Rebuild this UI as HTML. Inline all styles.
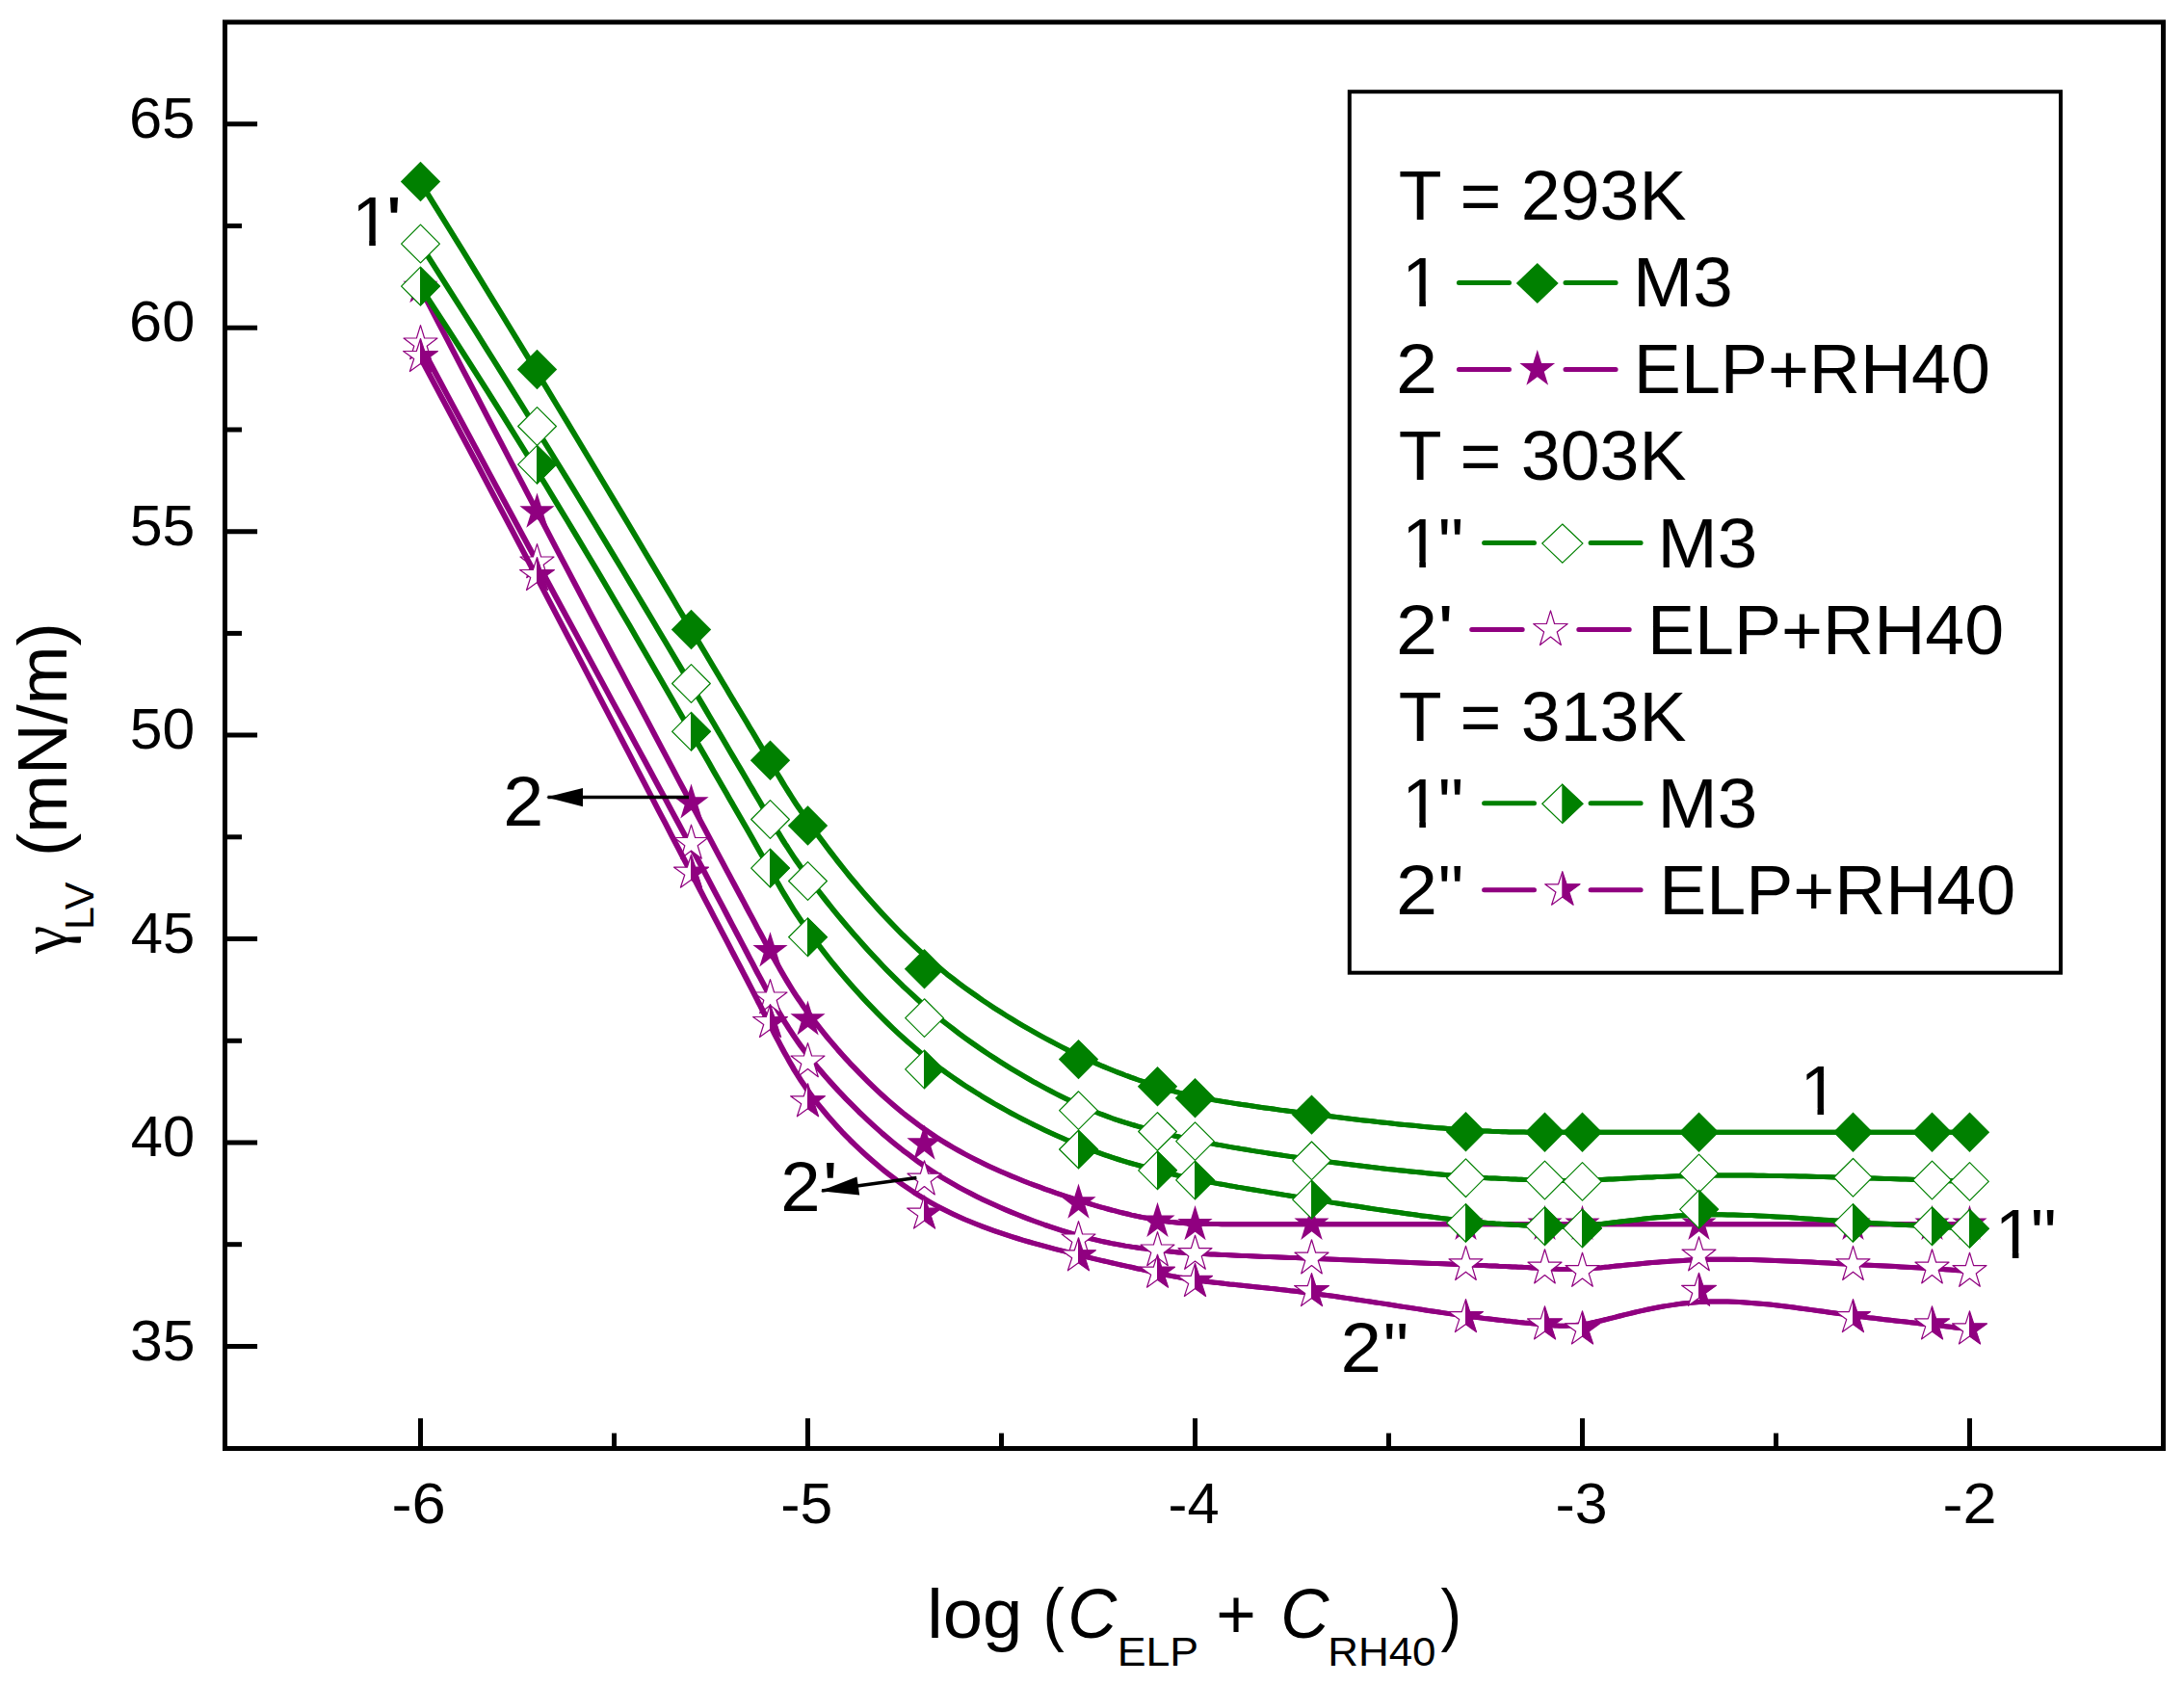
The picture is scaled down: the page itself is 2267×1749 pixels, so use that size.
<!DOCTYPE html>
<html lang="en"><head><meta charset="utf-8"><title>Surface tension plot</title>
<style>html,body{margin:0;padding:0;background:#fff}svg{display:block}text{font-family:"Liberation Sans",Arial,sans-serif;fill:#000}.it{font-style:italic}.ser{font-family:"Liberation Serif","DejaVu Serif",serif}</style></head><body>
<svg width="2267" height="1749" viewBox="0 0 2267 1749">
<rect width="2267" height="1749" fill="#fff"/>
<defs><clipPath id="k1"><rect x="0" y="-62" width="46" height="55.6"/><rect x="18.0" y="-6.6" width="6.6" height="7.6"/></clipPath></defs>
<g fill="none" stroke-linejoin="round">
<path d="M436.5,188.5 L451.4,212.6 L465.9,236.0 L480.0,258.8 L493.7,281.1 L506.9,302.7 L519.8,323.7 L532.3,344.2 L544.4,364.1 L556.1,383.4 L567.5,402.1 L578.4,420.3 L589.1,437.9 L599.4,455.0 L609.3,471.5 L618.9,487.5 L628.2,503.0 L637.1,517.9 L645.8,532.4 L654.1,546.3 L662.1,559.7 L669.8,572.7 L677.2,585.1 L684.3,597.1 L691.2,608.6 L697.7,619.6 L704.0,630.2 L710.1,640.4 L715.9,650.1 L721.5,659.4 L726.8,668.3 L731.9,676.8 L736.8,685.0 L741.4,692.8 L745.9,700.3 L750.2,707.5 L754.3,714.3 L758.2,720.9 L762.0,727.2 L765.6,733.2 L769.1,739.0 L772.4,744.5 L775.6,749.8 L778.6,754.9 L781.6,759.8 L784.4,764.6 L787.1,769.1 L789.8,773.6 L792.3,777.9 L794.8,782.1 L797.2,786.1 L799.6,790.1 L801.9,794.0 L804.2,797.8 L806.4,801.6 L808.7,805.3 L810.9,808.9 L813.1,812.6 L815.3,816.2 L817.6,819.8 L819.8,823.4 L822.1,827.0 L824.4,830.6 L826.8,834.3 L829.3,838.0 L831.8,841.7 L834.4,845.6 L837.1,849.5 L839.9,853.5 L842.8,857.5 L845.8,861.7 L848.9,866.1 L852.2,870.5 L855.6,875.1 L859.1,879.8 L862.8,884.6 L866.6,889.6 L870.5,894.6 L874.6,899.8 L878.8,905.0 L883.1,910.3 L887.6,915.6 L892.1,921.0 L896.8,926.5 L901.5,931.9 L906.4,937.4 L911.4,943.0 L916.4,948.5 L921.6,954.0 L926.9,959.5 L932.2,964.9 L937.6,970.4 L943.2,975.8 L948.8,981.1 L954.4,986.3 L960.2,991.5 L966.0,996.6 L971.9,1001.6 L977.8,1006.5 L983.8,1011.4 L989.9,1016.1 L995.9,1020.7 L1002.0,1025.2 L1008.2,1029.6 L1014.3,1033.9 L1020.4,1038.2 L1026.5,1042.3 L1032.6,1046.3 L1038.7,1050.2 L1044.7,1054.0 L1050.7,1057.7 L1056.7,1061.3 L1062.6,1064.8 L1068.4,1068.1 L1074.1,1071.4 L1079.8,1074.6 L1085.3,1077.6 L1090.8,1080.5 L1096.2,1083.4 L1101.4,1086.1 L1106.5,1088.7 L1111.5,1091.2 L1116.3,1093.5 L1121.0,1095.8 L1125.6,1098.0 L1130.1,1100.0 L1134.4,1102.0 L1138.6,1103.9 L1142.7,1105.7 L1146.7,1107.4 L1150.6,1109.0 L1154.3,1110.5 L1158.0,1112.0 L1161.5,1113.4 L1165.0,1114.7 L1168.3,1116.0 L1171.6,1117.2 L1174.7,1118.3 L1177.8,1119.4 L1180.7,1120.5 L1183.6,1121.5 L1186.4,1122.4 L1189.1,1123.4 L1191.8,1124.2 L1194.3,1125.1 L1196.8,1125.9 L1199.2,1126.7 L1201.6,1127.5 L1203.9,1128.2 L1206.2,1128.9 L1208.4,1129.6 L1210.7,1130.3 L1212.9,1131.0 L1215.1,1131.6 L1217.3,1132.3 L1219.6,1132.9 L1221.8,1133.5 L1224.1,1134.1 L1226.4,1134.7 L1228.8,1135.3 L1231.3,1135.9 L1233.8,1136.5 L1236.4,1137.1 L1239.1,1137.7 L1241.9,1138.2 L1244.8,1138.8 L1247.8,1139.4 L1250.9,1140.0 L1254.2,1140.6 L1257.6,1141.2 L1261.1,1141.9 L1264.8,1142.5 L1268.6,1143.1 L1272.5,1143.8 L1276.6,1144.4 L1280.8,1145.1 L1285.1,1145.8 L1289.6,1146.5 L1294.1,1147.1 L1298.8,1147.8 L1303.5,1148.5 L1308.4,1149.2 L1313.4,1149.9 L1318.4,1150.6 L1323.6,1151.3 L1328.9,1152.1 L1334.2,1152.8 L1339.6,1153.5 L1345.2,1154.2 L1350.8,1155.0 L1356.4,1155.7 L1362.2,1156.4 L1368.0,1157.1 L1373.9,1157.9 L1379.8,1158.6 L1385.8,1159.3 L1391.9,1160.1 L1397.9,1160.8 L1404.0,1161.5 L1410.2,1162.2 L1416.3,1162.9 L1422.4,1163.6 L1428.5,1164.3 L1434.6,1164.9 L1440.7,1165.6 L1446.7,1166.2 L1452.7,1166.9 L1458.7,1167.5 L1464.6,1168.1 L1470.4,1168.6 L1476.1,1169.2 L1481.8,1169.7 L1487.3,1170.2 L1492.8,1170.7 L1498.2,1171.1 L1503.4,1171.5 L1508.5,1171.9 L1513.5,1172.3 L1518.3,1172.6 L1523.0,1172.9 L1527.6,1173.2 L1532.1,1173.5 L1536.4,1173.7 L1540.6,1173.9 L1544.7,1174.1 L1548.7,1174.3 L1552.6,1174.4 L1556.3,1174.6 L1560.0,1174.7 L1563.5,1174.8 L1567.0,1174.9 L1570.3,1174.9 L1573.6,1175.0 L1576.7,1175.1 L1579.8,1175.1 L1582.7,1175.1 L1585.6,1175.2 L1588.4,1175.2 L1591.1,1175.2 L1593.8,1175.2 L1596.3,1175.2 L1598.8,1175.2 L1601.2,1175.2 L1603.6,1175.2 L1605.9,1175.3 L1608.2,1175.3 L1610.4,1175.3 L1612.7,1175.3 L1614.9,1175.3 L1617.1,1175.3 L1619.3,1175.3 L1621.6,1175.3 L1623.8,1175.3 L1626.1,1175.3 L1628.4,1175.3 L1630.8,1175.3 L1633.3,1175.3 L1635.8,1175.3 L1638.4,1175.3 L1641.1,1175.3 L1643.9,1175.3 L1646.8,1175.3 L1649.8,1175.3 L1652.9,1175.3 L1656.2,1175.3 L1659.6,1175.3 L1663.1,1175.3 L1666.8,1175.3 L1670.6,1175.3 L1674.5,1175.3 L1678.6,1175.3 L1682.8,1175.3 L1687.1,1175.3 L1691.6,1175.3 L1696.1,1175.3 L1700.8,1175.3 L1705.5,1175.3 L1710.4,1175.3 L1715.4,1175.3 L1720.4,1175.3 L1725.6,1175.3 L1730.9,1175.3 L1736.2,1175.3 L1741.6,1175.3 L1747.2,1175.3 L1752.8,1175.3 L1758.4,1175.3 L1764.2,1175.3 L1770.0,1175.3 L1775.9,1175.3 L1781.8,1175.3 L1787.8,1175.3 L1793.9,1175.3 L1800.0,1175.3 L1806.1,1175.3 L1812.3,1175.3 L1818.5,1175.3 L1824.8,1175.3 L1831.0,1175.3 L1837.3,1175.3 L1843.5,1175.3 L1849.8,1175.3 L1856.1,1175.3 L1862.3,1175.3 L1868.6,1175.3 L1874.8,1175.3 L1881.0,1175.3 L1887.2,1175.3 L1893.3,1175.3 L1899.4,1175.3 L1905.4,1175.3 L1911.4,1175.3 L1917.3,1175.3 L1923.2,1175.3 L1929.0,1175.3 L1934.7,1175.3 L1940.4,1175.3 L1946.0,1175.3 L1951.6,1175.3 L1957.1,1175.3 L1962.6,1175.3 L1968.0,1175.3 L1973.4,1175.3 L1978.7,1175.3 L1984.0,1175.3 L1989.2,1175.3 L1994.4,1175.3 L1999.6,1175.3 L2004.7,1175.3 L2009.8,1175.3 L2014.8,1175.3 L2019.8,1175.3 L2024.8,1175.3 L2029.8,1175.3 L2034.7,1175.3 L2039.6,1175.3 L2044.5,1175.3" stroke="#008000" stroke-width="5.0" fill="none" transform="translate(-1,0)"/>
<path d="M436.5,188.5 L451.4,212.6 L465.9,236.0 L480.0,258.8 L493.7,281.1 L506.9,302.7 L519.8,323.7 L532.3,344.2 L544.4,364.1 L556.1,383.4 L567.5,402.1 L578.4,420.3 L589.1,437.9 L599.4,455.0 L609.3,471.5 L618.9,487.5 L628.2,503.0 L637.1,517.9 L645.8,532.4 L654.1,546.3 L662.1,559.7 L669.8,572.7 L677.2,585.1 L684.3,597.1 L691.2,608.6 L697.7,619.6 L704.0,630.2 L710.1,640.4 L715.9,650.1 L721.5,659.4 L726.8,668.3 L731.9,676.8 L736.8,685.0 L741.4,692.8 L745.9,700.3 L750.2,707.5 L754.3,714.3 L758.2,720.9 L762.0,727.2 L765.6,733.2 L769.1,739.0 L772.4,744.5 L775.6,749.8 L778.6,754.9 L781.6,759.8 L784.4,764.6 L787.1,769.1 L789.8,773.6 L792.3,777.9 L794.8,782.1 L797.2,786.1 L799.6,790.1 L801.9,794.0 L804.2,797.8 L806.4,801.6 L808.7,805.3 L810.9,808.9 L813.1,812.6 L815.3,816.2 L817.6,819.8 L819.8,823.4 L822.1,827.0 L824.4,830.6 L826.8,834.3 L829.3,838.0 L831.8,841.7 L834.4,845.6 L837.1,849.5 L839.9,853.5 L842.8,857.5 L845.8,861.7 L848.9,866.1 L852.2,870.5 L855.6,875.1 L859.1,879.8 L862.8,884.6 L866.6,889.6 L870.5,894.6 L874.6,899.8 L878.8,905.0 L883.1,910.3 L887.6,915.6 L892.1,921.0 L896.8,926.5 L901.5,931.9 L906.4,937.4 L911.4,943.0 L916.4,948.5 L921.6,954.0 L926.9,959.5 L932.2,964.9 L937.6,970.4 L943.2,975.8 L948.8,981.1 L954.4,986.3 L960.2,991.5 L966.0,996.6 L971.9,1001.6 L977.8,1006.5 L983.8,1011.4 L989.9,1016.1 L995.9,1020.7 L1002.0,1025.2 L1008.2,1029.6 L1014.3,1033.9 L1020.4,1038.2 L1026.5,1042.3 L1032.6,1046.3 L1038.7,1050.2 L1044.7,1054.0 L1050.7,1057.7 L1056.7,1061.3 L1062.6,1064.8 L1068.4,1068.1 L1074.1,1071.4 L1079.8,1074.6 L1085.3,1077.6 L1090.8,1080.5 L1096.2,1083.4 L1101.4,1086.1 L1106.5,1088.7 L1111.5,1091.2 L1116.3,1093.5 L1121.0,1095.8 L1125.6,1098.0 L1130.1,1100.0 L1134.4,1102.0 L1138.6,1103.9 L1142.7,1105.7 L1146.7,1107.4 L1150.6,1109.0 L1154.3,1110.5 L1158.0,1112.0 L1161.5,1113.4 L1165.0,1114.7 L1168.3,1116.0 L1171.6,1117.2 L1174.7,1118.3 L1177.8,1119.4 L1180.7,1120.5 L1183.6,1121.5 L1186.4,1122.4 L1189.1,1123.4 L1191.8,1124.2 L1194.3,1125.1 L1196.8,1125.9 L1199.2,1126.7 L1201.6,1127.5 L1203.9,1128.2 L1206.2,1128.9 L1208.4,1129.6 L1210.7,1130.3 L1212.9,1131.0 L1215.1,1131.6 L1217.3,1132.3 L1219.6,1132.9 L1221.8,1133.5 L1224.1,1134.1 L1226.4,1134.7 L1228.8,1135.3 L1231.3,1135.9 L1233.8,1136.5 L1236.4,1137.1 L1239.1,1137.7 L1241.9,1138.2 L1244.8,1138.8 L1247.8,1139.4 L1250.9,1140.0 L1254.2,1140.6 L1257.6,1141.2 L1261.1,1141.9 L1264.8,1142.5 L1268.6,1143.1 L1272.5,1143.8 L1276.6,1144.4 L1280.8,1145.1 L1285.1,1145.8 L1289.6,1146.5 L1294.1,1147.1 L1298.8,1147.8 L1303.5,1148.5 L1308.4,1149.2 L1313.4,1149.9 L1318.4,1150.6 L1323.6,1151.3 L1328.9,1152.1 L1334.2,1152.8 L1339.6,1153.5 L1345.2,1154.2 L1350.8,1155.0 L1356.4,1155.7 L1362.2,1156.4 L1368.0,1157.1 L1373.9,1157.9 L1379.8,1158.6 L1385.8,1159.3 L1391.9,1160.1 L1397.9,1160.8 L1404.0,1161.5 L1410.2,1162.2 L1416.3,1162.9 L1422.4,1163.6 L1428.5,1164.3 L1434.6,1164.9 L1440.7,1165.6 L1446.7,1166.2 L1452.7,1166.9 L1458.7,1167.5 L1464.6,1168.1 L1470.4,1168.6 L1476.1,1169.2 L1481.8,1169.7 L1487.3,1170.2 L1492.8,1170.7 L1498.2,1171.1 L1503.4,1171.5 L1508.5,1171.9 L1513.5,1172.3 L1518.3,1172.6 L1523.0,1172.9 L1527.6,1173.2 L1532.1,1173.5 L1536.4,1173.7 L1540.6,1173.9 L1544.7,1174.1 L1548.7,1174.3 L1552.6,1174.4 L1556.3,1174.6 L1560.0,1174.7 L1563.5,1174.8 L1567.0,1174.9 L1570.3,1174.9 L1573.6,1175.0 L1576.7,1175.1 L1579.8,1175.1 L1582.7,1175.1 L1585.6,1175.2 L1588.4,1175.2 L1591.1,1175.2 L1593.8,1175.2 L1596.3,1175.2 L1598.8,1175.2 L1601.2,1175.2 L1603.6,1175.2 L1605.9,1175.3 L1608.2,1175.3 L1610.4,1175.3 L1612.7,1175.3 L1614.9,1175.3 L1617.1,1175.3 L1619.3,1175.3 L1621.6,1175.3 L1623.8,1175.3 L1626.1,1175.3 L1628.4,1175.3 L1630.8,1175.3 L1633.3,1175.3 L1635.8,1175.3 L1638.4,1175.3 L1641.1,1175.3 L1643.9,1175.3 L1646.8,1175.3 L1649.8,1175.3 L1652.9,1175.3 L1656.2,1175.3 L1659.6,1175.3 L1663.1,1175.3 L1666.8,1175.3 L1670.6,1175.3 L1674.5,1175.3 L1678.6,1175.3 L1682.8,1175.3 L1687.1,1175.3 L1691.6,1175.3 L1696.1,1175.3 L1700.8,1175.3 L1705.5,1175.3 L1710.4,1175.3 L1715.4,1175.3 L1720.4,1175.3 L1725.6,1175.3 L1730.9,1175.3 L1736.2,1175.3 L1741.6,1175.3 L1747.2,1175.3 L1752.8,1175.3 L1758.4,1175.3 L1764.2,1175.3 L1770.0,1175.3 L1775.9,1175.3 L1781.8,1175.3 L1787.8,1175.3 L1793.9,1175.3 L1800.0,1175.3 L1806.1,1175.3 L1812.3,1175.3 L1818.5,1175.3 L1824.8,1175.3 L1831.0,1175.3 L1837.3,1175.3 L1843.5,1175.3 L1849.8,1175.3 L1856.1,1175.3 L1862.3,1175.3 L1868.6,1175.3 L1874.8,1175.3 L1881.0,1175.3 L1887.2,1175.3 L1893.3,1175.3 L1899.4,1175.3 L1905.4,1175.3 L1911.4,1175.3 L1917.3,1175.3 L1923.2,1175.3 L1929.0,1175.3 L1934.7,1175.3 L1940.4,1175.3 L1946.0,1175.3 L1951.6,1175.3 L1957.1,1175.3 L1962.6,1175.3 L1968.0,1175.3 L1973.4,1175.3 L1978.7,1175.3 L1984.0,1175.3 L1989.2,1175.3 L1994.4,1175.3 L1999.6,1175.3 L2004.7,1175.3 L2009.8,1175.3 L2014.8,1175.3 L2019.8,1175.3 L2024.8,1175.3 L2029.8,1175.3 L2034.7,1175.3 L2039.6,1175.3 L2044.5,1175.3" stroke="#008000" stroke-width="5.0" fill="none" transform="translate(0,0)"/>
<polygon points="436.5,167.8 457.2,188.5 436.5,209.2 415.8,188.5" fill="#008000"/>
<polygon points="557.5,362.8 578.2,383.5 557.5,404.2 536.8,383.5" fill="#008000"/>
<polygon points="717.5,632.8 738.2,653.5 717.5,674.2 696.8,653.5" fill="#008000"/>
<polygon points="799.5,768.5 820.2,789.2 799.5,809.9 778.8,789.2" fill="#008000"/>
<polygon points="838.5,836.3 859.2,857.0 838.5,877.7 817.8,857.0" fill="#008000"/>
<polygon points="959.5,985.1 980.2,1005.8 959.5,1026.5 938.8,1005.8" fill="#008000"/>
<polygon points="1119.5,1078.9 1140.2,1099.6 1119.5,1120.3 1098.8,1099.6" fill="#008000"/>
<polygon points="1201.5,1107.1 1222.2,1127.8 1201.5,1148.5 1180.8,1127.8" fill="#008000"/>
<polygon points="1240.5,1119.0 1261.2,1139.7 1240.5,1160.4 1219.8,1139.7" fill="#008000"/>
<polygon points="1361.5,1136.4 1382.2,1157.1 1361.5,1177.8 1340.8,1157.1" fill="#008000"/>
<polygon points="1521.5,1154.1 1542.2,1174.8 1521.5,1195.5 1500.8,1174.8" fill="#008000"/>
<polygon points="1603.5,1154.6 1624.2,1175.3 1603.5,1196.0 1582.8,1175.3" fill="#008000"/>
<polygon points="1642.5,1154.6 1663.2,1175.3 1642.5,1196.0 1621.8,1175.3" fill="#008000"/>
<polygon points="1763.5,1154.6 1784.2,1175.3 1763.5,1196.0 1742.8,1175.3" fill="#008000"/>
<polygon points="1923.5,1154.6 1944.2,1175.3 1923.5,1196.0 1902.8,1175.3" fill="#008000"/>
<polygon points="2005.5,1154.6 2026.2,1175.3 2005.5,1196.0 1984.8,1175.3" fill="#008000"/>
<polygon points="2044.5,1154.6 2065.2,1175.3 2044.5,1196.0 2023.8,1175.3" fill="#008000"/>
<path d="M436.5,298.0 L451.4,326.8 L465.9,354.7 L480.0,381.8 L493.7,408.0 L506.9,433.5 L519.8,458.2 L532.3,482.1 L544.4,505.2 L556.1,527.6 L567.5,549.2 L578.4,570.2 L589.1,590.4 L599.4,610.0 L609.3,628.8 L618.9,647.1 L628.2,664.6 L637.1,681.6 L645.8,697.9 L654.1,713.6 L662.1,728.7 L669.8,743.2 L677.2,757.2 L684.3,770.7 L691.2,783.6 L697.7,795.9 L704.0,807.8 L710.1,819.2 L715.9,830.1 L721.5,840.6 L726.8,850.6 L731.9,860.2 L736.8,869.4 L741.4,878.2 L745.9,886.6 L750.2,894.6 L754.3,902.3 L758.2,909.7 L762.0,916.8 L765.6,923.5 L769.1,930.0 L772.4,936.2 L775.6,942.2 L778.6,947.9 L781.6,953.4 L784.4,958.7 L787.1,963.8 L789.8,968.7 L792.3,973.4 L794.8,978.1 L797.2,982.5 L799.6,986.9 L801.9,991.1 L804.2,995.3 L806.4,999.3 L808.7,1003.3 L810.9,1007.2 L813.1,1011.0 L815.3,1014.8 L817.6,1018.6 L819.8,1022.3 L822.1,1026.0 L824.4,1029.7 L826.8,1033.3 L829.3,1037.0 L831.8,1040.7 L834.4,1044.5 L837.1,1048.2 L839.9,1052.1 L842.8,1055.9 L845.8,1059.9 L848.9,1063.9 L852.2,1068.0 L855.6,1072.3 L859.1,1076.6 L862.8,1081.0 L866.6,1085.4 L870.5,1090.0 L874.6,1094.6 L878.8,1099.2 L883.1,1103.9 L887.6,1108.6 L892.1,1113.3 L896.8,1118.0 L901.5,1122.7 L906.4,1127.5 L911.4,1132.2 L916.4,1136.8 L921.6,1141.5 L926.9,1146.1 L932.2,1150.6 L937.6,1155.1 L943.2,1159.5 L948.8,1163.8 L954.4,1168.0 L960.2,1172.1 L966.0,1176.1 L971.9,1180.1 L977.8,1183.8 L983.8,1187.5 L989.9,1191.1 L995.9,1194.5 L1002.0,1197.9 L1008.2,1201.1 L1014.3,1204.2 L1020.4,1207.2 L1026.5,1210.2 L1032.6,1213.0 L1038.7,1215.7 L1044.7,1218.3 L1050.7,1220.9 L1056.7,1223.3 L1062.6,1225.7 L1068.4,1228.0 L1074.1,1230.1 L1079.8,1232.2 L1085.3,1234.3 L1090.8,1236.2 L1096.2,1238.1 L1101.4,1239.8 L1106.5,1241.5 L1111.5,1243.2 L1116.3,1244.8 L1121.0,1246.3 L1125.6,1247.7 L1130.1,1249.0 L1134.4,1250.4 L1138.6,1251.6 L1142.7,1252.8 L1146.7,1253.9 L1150.6,1255.0 L1154.3,1256.0 L1158.0,1256.9 L1161.5,1257.9 L1165.0,1258.7 L1168.3,1259.5 L1171.6,1260.3 L1174.7,1261.1 L1177.8,1261.7 L1180.7,1262.4 L1183.6,1263.0 L1186.4,1263.6 L1189.1,1264.1 L1191.8,1264.6 L1194.3,1265.1 L1196.8,1265.6 L1199.2,1266.0 L1201.6,1266.4 L1203.9,1266.8 L1206.2,1267.2 L1208.4,1267.5 L1210.7,1267.8 L1212.9,1268.1 L1215.1,1268.4 L1217.3,1268.6 L1219.6,1268.8 L1221.8,1269.0 L1224.1,1269.2 L1226.4,1269.4 L1228.8,1269.6 L1231.3,1269.7 L1233.8,1269.9 L1236.4,1270.0 L1239.1,1270.1 L1241.9,1270.2 L1244.8,1270.3 L1247.8,1270.3 L1250.9,1270.4 L1254.2,1270.5 L1257.6,1270.5 L1261.1,1270.6 L1264.8,1270.6 L1268.6,1270.7 L1272.5,1270.7 L1276.6,1270.7 L1280.8,1270.8 L1285.1,1270.8 L1289.6,1270.8 L1294.1,1270.8 L1298.8,1270.8 L1303.5,1270.8 L1308.4,1270.8 L1313.4,1270.8 L1318.4,1270.8 L1323.6,1270.8 L1328.9,1270.8 L1334.2,1270.8 L1339.6,1270.8 L1345.2,1270.8 L1350.8,1270.8 L1356.4,1270.8 L1362.2,1270.8 L1368.0,1270.8 L1373.9,1270.8 L1379.8,1270.8 L1385.8,1270.7 L1391.9,1270.7 L1397.9,1270.7 L1404.0,1270.7 L1410.2,1270.7 L1416.3,1270.7 L1422.4,1270.7 L1428.5,1270.7 L1434.6,1270.7 L1440.7,1270.7 L1446.7,1270.7 L1452.7,1270.7 L1458.7,1270.7 L1464.6,1270.7 L1470.4,1270.7 L1476.1,1270.7 L1481.8,1270.7 L1487.3,1270.7 L1492.8,1270.7 L1498.2,1270.7 L1503.4,1270.7 L1508.5,1270.7 L1513.5,1270.7 L1518.3,1270.7 L1523.0,1270.7 L1527.6,1270.7 L1532.1,1270.7 L1536.4,1270.7 L1540.6,1270.7 L1544.7,1270.7 L1548.7,1270.7 L1552.6,1270.7 L1556.3,1270.7 L1560.0,1270.7 L1563.5,1270.7 L1567.0,1270.7 L1570.3,1270.7 L1573.6,1270.7 L1576.7,1270.7 L1579.8,1270.7 L1582.7,1270.7 L1585.6,1270.7 L1588.4,1270.7 L1591.1,1270.7 L1593.8,1270.7 L1596.3,1270.7 L1598.8,1270.7 L1601.2,1270.7 L1603.6,1270.7 L1605.9,1270.7 L1608.2,1270.7 L1610.4,1270.7 L1612.7,1270.7 L1614.9,1270.7 L1617.1,1270.7 L1619.3,1270.7 L1621.6,1270.7 L1623.8,1270.7 L1626.1,1270.7 L1628.4,1270.7 L1630.8,1270.7 L1633.3,1270.7 L1635.8,1270.7 L1638.4,1270.7 L1641.1,1270.7 L1643.9,1270.7 L1646.8,1270.7 L1649.8,1270.7 L1652.9,1270.7 L1656.2,1270.7 L1659.6,1270.7 L1663.1,1270.7 L1666.8,1270.7 L1670.6,1270.7 L1674.5,1270.7 L1678.6,1270.7 L1682.8,1270.7 L1687.1,1270.7 L1691.6,1270.7 L1696.1,1270.7 L1700.8,1270.7 L1705.5,1270.7 L1710.4,1270.7 L1715.4,1270.7 L1720.4,1270.7 L1725.6,1270.7 L1730.9,1270.7 L1736.2,1270.7 L1741.6,1270.7 L1747.2,1270.7 L1752.8,1270.7 L1758.4,1270.7 L1764.2,1270.7 L1770.0,1270.7 L1775.9,1270.7 L1781.8,1270.7 L1787.8,1270.7 L1793.9,1270.7 L1800.0,1270.7 L1806.1,1270.7 L1812.3,1270.7 L1818.5,1270.7 L1824.8,1270.7 L1831.0,1270.7 L1837.3,1270.7 L1843.5,1270.7 L1849.8,1270.7 L1856.1,1270.7 L1862.3,1270.7 L1868.6,1270.7 L1874.8,1270.7 L1881.0,1270.7 L1887.2,1270.7 L1893.3,1270.7 L1899.4,1270.7 L1905.4,1270.7 L1911.4,1270.7 L1917.3,1270.7 L1923.2,1270.7 L1929.0,1270.7 L1934.7,1270.7 L1940.4,1270.7 L1946.0,1270.7 L1951.6,1270.7 L1957.1,1270.7 L1962.6,1270.7 L1968.0,1270.7 L1973.4,1270.7 L1978.7,1270.7 L1984.0,1270.7 L1989.2,1270.7 L1994.4,1270.7 L1999.6,1270.7 L2004.7,1270.7 L2009.8,1270.7 L2014.8,1270.7 L2019.8,1270.7 L2024.8,1270.7 L2029.8,1270.7 L2034.7,1270.7 L2039.6,1270.7 L2044.5,1270.7" stroke="#900080" stroke-width="5.0" fill="none" transform="translate(-1,0)"/>
<path d="M436.5,298.0 L451.4,326.8 L465.9,354.7 L480.0,381.8 L493.7,408.0 L506.9,433.5 L519.8,458.2 L532.3,482.1 L544.4,505.2 L556.1,527.6 L567.5,549.2 L578.4,570.2 L589.1,590.4 L599.4,610.0 L609.3,628.8 L618.9,647.1 L628.2,664.6 L637.1,681.6 L645.8,697.9 L654.1,713.6 L662.1,728.7 L669.8,743.2 L677.2,757.2 L684.3,770.7 L691.2,783.6 L697.7,795.9 L704.0,807.8 L710.1,819.2 L715.9,830.1 L721.5,840.6 L726.8,850.6 L731.9,860.2 L736.8,869.4 L741.4,878.2 L745.9,886.6 L750.2,894.6 L754.3,902.3 L758.2,909.7 L762.0,916.8 L765.6,923.5 L769.1,930.0 L772.4,936.2 L775.6,942.2 L778.6,947.9 L781.6,953.4 L784.4,958.7 L787.1,963.8 L789.8,968.7 L792.3,973.4 L794.8,978.1 L797.2,982.5 L799.6,986.9 L801.9,991.1 L804.2,995.3 L806.4,999.3 L808.7,1003.3 L810.9,1007.2 L813.1,1011.0 L815.3,1014.8 L817.6,1018.6 L819.8,1022.3 L822.1,1026.0 L824.4,1029.7 L826.8,1033.3 L829.3,1037.0 L831.8,1040.7 L834.4,1044.5 L837.1,1048.2 L839.9,1052.1 L842.8,1055.9 L845.8,1059.9 L848.9,1063.9 L852.2,1068.0 L855.6,1072.3 L859.1,1076.6 L862.8,1081.0 L866.6,1085.4 L870.5,1090.0 L874.6,1094.6 L878.8,1099.2 L883.1,1103.9 L887.6,1108.6 L892.1,1113.3 L896.8,1118.0 L901.5,1122.7 L906.4,1127.5 L911.4,1132.2 L916.4,1136.8 L921.6,1141.5 L926.9,1146.1 L932.2,1150.6 L937.6,1155.1 L943.2,1159.5 L948.8,1163.8 L954.4,1168.0 L960.2,1172.1 L966.0,1176.1 L971.9,1180.1 L977.8,1183.8 L983.8,1187.5 L989.9,1191.1 L995.9,1194.5 L1002.0,1197.9 L1008.2,1201.1 L1014.3,1204.2 L1020.4,1207.2 L1026.5,1210.2 L1032.6,1213.0 L1038.7,1215.7 L1044.7,1218.3 L1050.7,1220.9 L1056.7,1223.3 L1062.6,1225.7 L1068.4,1228.0 L1074.1,1230.1 L1079.8,1232.2 L1085.3,1234.3 L1090.8,1236.2 L1096.2,1238.1 L1101.4,1239.8 L1106.5,1241.5 L1111.5,1243.2 L1116.3,1244.8 L1121.0,1246.3 L1125.6,1247.7 L1130.1,1249.0 L1134.4,1250.4 L1138.6,1251.6 L1142.7,1252.8 L1146.7,1253.9 L1150.6,1255.0 L1154.3,1256.0 L1158.0,1256.9 L1161.5,1257.9 L1165.0,1258.7 L1168.3,1259.5 L1171.6,1260.3 L1174.7,1261.1 L1177.8,1261.7 L1180.7,1262.4 L1183.6,1263.0 L1186.4,1263.6 L1189.1,1264.1 L1191.8,1264.6 L1194.3,1265.1 L1196.8,1265.6 L1199.2,1266.0 L1201.6,1266.4 L1203.9,1266.8 L1206.2,1267.2 L1208.4,1267.5 L1210.7,1267.8 L1212.9,1268.1 L1215.1,1268.4 L1217.3,1268.6 L1219.6,1268.8 L1221.8,1269.0 L1224.1,1269.2 L1226.4,1269.4 L1228.8,1269.6 L1231.3,1269.7 L1233.8,1269.9 L1236.4,1270.0 L1239.1,1270.1 L1241.9,1270.2 L1244.8,1270.3 L1247.8,1270.3 L1250.9,1270.4 L1254.2,1270.5 L1257.6,1270.5 L1261.1,1270.6 L1264.8,1270.6 L1268.6,1270.7 L1272.5,1270.7 L1276.6,1270.7 L1280.8,1270.8 L1285.1,1270.8 L1289.6,1270.8 L1294.1,1270.8 L1298.8,1270.8 L1303.5,1270.8 L1308.4,1270.8 L1313.4,1270.8 L1318.4,1270.8 L1323.6,1270.8 L1328.9,1270.8 L1334.2,1270.8 L1339.6,1270.8 L1345.2,1270.8 L1350.8,1270.8 L1356.4,1270.8 L1362.2,1270.8 L1368.0,1270.8 L1373.9,1270.8 L1379.8,1270.8 L1385.8,1270.7 L1391.9,1270.7 L1397.9,1270.7 L1404.0,1270.7 L1410.2,1270.7 L1416.3,1270.7 L1422.4,1270.7 L1428.5,1270.7 L1434.6,1270.7 L1440.7,1270.7 L1446.7,1270.7 L1452.7,1270.7 L1458.7,1270.7 L1464.6,1270.7 L1470.4,1270.7 L1476.1,1270.7 L1481.8,1270.7 L1487.3,1270.7 L1492.8,1270.7 L1498.2,1270.7 L1503.4,1270.7 L1508.5,1270.7 L1513.5,1270.7 L1518.3,1270.7 L1523.0,1270.7 L1527.6,1270.7 L1532.1,1270.7 L1536.4,1270.7 L1540.6,1270.7 L1544.7,1270.7 L1548.7,1270.7 L1552.6,1270.7 L1556.3,1270.7 L1560.0,1270.7 L1563.5,1270.7 L1567.0,1270.7 L1570.3,1270.7 L1573.6,1270.7 L1576.7,1270.7 L1579.8,1270.7 L1582.7,1270.7 L1585.6,1270.7 L1588.4,1270.7 L1591.1,1270.7 L1593.8,1270.7 L1596.3,1270.7 L1598.8,1270.7 L1601.2,1270.7 L1603.6,1270.7 L1605.9,1270.7 L1608.2,1270.7 L1610.4,1270.7 L1612.7,1270.7 L1614.9,1270.7 L1617.1,1270.7 L1619.3,1270.7 L1621.6,1270.7 L1623.8,1270.7 L1626.1,1270.7 L1628.4,1270.7 L1630.8,1270.7 L1633.3,1270.7 L1635.8,1270.7 L1638.4,1270.7 L1641.1,1270.7 L1643.9,1270.7 L1646.8,1270.7 L1649.8,1270.7 L1652.9,1270.7 L1656.2,1270.7 L1659.6,1270.7 L1663.1,1270.7 L1666.8,1270.7 L1670.6,1270.7 L1674.5,1270.7 L1678.6,1270.7 L1682.8,1270.7 L1687.1,1270.7 L1691.6,1270.7 L1696.1,1270.7 L1700.8,1270.7 L1705.5,1270.7 L1710.4,1270.7 L1715.4,1270.7 L1720.4,1270.7 L1725.6,1270.7 L1730.9,1270.7 L1736.2,1270.7 L1741.6,1270.7 L1747.2,1270.7 L1752.8,1270.7 L1758.4,1270.7 L1764.2,1270.7 L1770.0,1270.7 L1775.9,1270.7 L1781.8,1270.7 L1787.8,1270.7 L1793.9,1270.7 L1800.0,1270.7 L1806.1,1270.7 L1812.3,1270.7 L1818.5,1270.7 L1824.8,1270.7 L1831.0,1270.7 L1837.3,1270.7 L1843.5,1270.7 L1849.8,1270.7 L1856.1,1270.7 L1862.3,1270.7 L1868.6,1270.7 L1874.8,1270.7 L1881.0,1270.7 L1887.2,1270.7 L1893.3,1270.7 L1899.4,1270.7 L1905.4,1270.7 L1911.4,1270.7 L1917.3,1270.7 L1923.2,1270.7 L1929.0,1270.7 L1934.7,1270.7 L1940.4,1270.7 L1946.0,1270.7 L1951.6,1270.7 L1957.1,1270.7 L1962.6,1270.7 L1968.0,1270.7 L1973.4,1270.7 L1978.7,1270.7 L1984.0,1270.7 L1989.2,1270.7 L1994.4,1270.7 L1999.6,1270.7 L2004.7,1270.7 L2009.8,1270.7 L2014.8,1270.7 L2019.8,1270.7 L2024.8,1270.7 L2029.8,1270.7 L2034.7,1270.7 L2039.6,1270.7 L2044.5,1270.7" stroke="#900080" stroke-width="5.0" fill="none" transform="translate(0,0)"/>
<polygon points="436.5,278.0 440.8,291.8 454.6,291.8 443.4,300.4 447.7,314.2 436.5,305.6 425.3,314.2 429.6,300.4 418.4,291.8 432.2,291.8" fill="#900080"/>
<polygon points="557.5,511.5 561.8,525.3 575.6,525.3 564.4,533.9 568.7,547.7 557.5,539.1 546.3,547.7 550.6,533.9 539.4,525.3 553.2,525.3" fill="#900080"/>
<polygon points="717.5,813.4 721.8,827.2 735.6,827.2 724.4,835.8 728.7,849.6 717.5,841.0 706.3,849.6 710.6,835.8 699.4,827.2 713.2,827.2" fill="#900080"/>
<polygon points="799.5,967.2 803.8,981.0 817.6,981.0 806.4,989.6 810.7,1003.4 799.5,994.8 788.3,1003.4 792.6,989.6 781.4,981.0 795.2,981.0" fill="#900080"/>
<polygon points="838.5,1038.4 842.8,1052.2 856.6,1052.2 845.4,1060.8 849.7,1074.6 838.5,1066.0 827.3,1074.6 831.6,1060.8 820.4,1052.2 834.2,1052.2" fill="#900080"/>
<polygon points="959.5,1167.5 963.8,1181.3 977.6,1181.3 966.4,1189.9 970.7,1203.7 959.5,1195.1 948.3,1203.7 952.6,1189.9 941.4,1181.3 955.2,1181.3" fill="#900080"/>
<polygon points="1119.5,1228.5 1123.8,1242.3 1137.6,1242.3 1126.4,1250.9 1130.7,1264.7 1119.5,1256.1 1108.3,1264.7 1112.6,1250.9 1101.4,1242.3 1115.2,1242.3" fill="#900080"/>
<polygon points="1201.5,1247.8 1205.8,1261.6 1219.6,1261.6 1208.4,1270.2 1212.7,1284.0 1201.5,1275.4 1190.3,1284.0 1194.6,1270.2 1183.4,1261.6 1197.2,1261.6" fill="#900080"/>
<polygon points="1240.5,1251.1 1244.8,1264.9 1258.6,1264.9 1247.4,1273.5 1251.7,1287.3 1240.5,1278.7 1229.3,1287.3 1233.6,1273.5 1222.4,1264.9 1236.2,1264.9" fill="#900080"/>
<polygon points="1361.5,1250.7 1365.8,1264.5 1379.6,1264.5 1368.4,1273.1 1372.7,1286.9 1361.5,1278.3 1350.3,1286.9 1354.6,1273.1 1343.4,1264.5 1357.2,1264.5" fill="#900080"/>
<polygon points="1521.5,1250.7 1525.8,1264.5 1539.6,1264.5 1528.4,1273.1 1532.7,1286.9 1521.5,1278.3 1510.3,1286.9 1514.6,1273.1 1503.4,1264.5 1517.2,1264.5" fill="#900080"/>
<polygon points="1603.5,1250.7 1607.8,1264.5 1621.6,1264.5 1610.4,1273.1 1614.7,1286.9 1603.5,1278.3 1592.3,1286.9 1596.6,1273.1 1585.4,1264.5 1599.2,1264.5" fill="#900080"/>
<polygon points="1642.5,1250.7 1646.8,1264.5 1660.6,1264.5 1649.4,1273.1 1653.7,1286.9 1642.5,1278.3 1631.3,1286.9 1635.6,1273.1 1624.4,1264.5 1638.2,1264.5" fill="#900080"/>
<polygon points="1763.5,1250.7 1767.8,1264.5 1781.6,1264.5 1770.4,1273.1 1774.7,1286.9 1763.5,1278.3 1752.3,1286.9 1756.6,1273.1 1745.4,1264.5 1759.2,1264.5" fill="#900080"/>
<polygon points="1923.5,1250.7 1927.8,1264.5 1941.6,1264.5 1930.4,1273.1 1934.7,1286.9 1923.5,1278.3 1912.3,1286.9 1916.6,1273.1 1905.4,1264.5 1919.2,1264.5" fill="#900080"/>
<polygon points="2005.5,1250.7 2009.8,1264.5 2023.6,1264.5 2012.4,1273.1 2016.7,1286.9 2005.5,1278.3 1994.3,1286.9 1998.6,1273.1 1987.4,1264.5 2001.2,1264.5" fill="#900080"/>
<polygon points="2044.5,1250.7 2048.8,1264.5 2062.6,1264.5 2051.4,1273.1 2055.7,1286.9 2044.5,1278.3 2033.3,1286.9 2037.6,1273.1 2026.4,1264.5 2040.2,1264.5" fill="#900080"/>
<path d="M436.5,253.1 L451.4,276.5 L465.9,299.3 L480.0,321.5 L493.7,343.2 L506.9,364.3 L519.8,384.9 L532.3,404.9 L544.4,424.3 L556.1,443.3 L567.5,461.7 L578.4,479.5 L589.1,496.9 L599.4,513.7 L609.3,530.0 L618.9,545.8 L628.2,561.1 L637.1,575.9 L645.8,590.3 L654.1,604.1 L662.1,617.5 L669.8,630.4 L677.2,642.8 L684.3,654.7 L691.2,666.2 L697.7,677.3 L704.0,687.9 L710.1,698.1 L715.9,707.9 L721.5,717.3 L726.8,726.3 L731.9,734.9 L736.8,743.2 L741.4,751.1 L745.9,758.7 L750.2,766.0 L754.3,773.0 L758.2,779.7 L762.0,786.1 L765.6,792.2 L769.1,798.1 L772.4,803.7 L775.6,809.2 L778.6,814.4 L781.6,819.4 L784.4,824.2 L787.1,828.8 L789.8,833.3 L792.3,837.7 L794.8,841.9 L797.2,846.0 L799.6,849.9 L801.9,853.8 L804.2,857.6 L806.4,861.3 L808.7,864.9 L810.9,868.5 L813.1,872.1 L815.3,875.6 L817.6,879.0 L819.8,882.5 L822.1,886.0 L824.4,889.5 L826.8,893.0 L829.3,896.5 L831.8,900.1 L834.4,903.8 L837.1,907.5 L839.9,911.3 L842.8,915.2 L845.8,919.2 L848.9,923.3 L852.2,927.5 L855.6,931.9 L859.1,936.4 L862.8,941.0 L866.6,945.7 L870.5,950.5 L874.6,955.4 L878.8,960.4 L883.1,965.4 L887.6,970.6 L892.1,975.7 L896.8,981.0 L901.5,986.2 L906.4,991.5 L911.4,996.8 L916.4,1002.1 L921.6,1007.4 L926.9,1012.7 L932.2,1018.0 L937.6,1023.3 L943.2,1028.5 L948.8,1033.7 L954.4,1038.8 L960.2,1043.9 L966.0,1048.9 L971.9,1053.8 L977.8,1058.7 L983.8,1063.4 L989.9,1068.1 L995.9,1072.7 L1002.0,1077.2 L1008.2,1081.6 L1014.3,1085.9 L1020.4,1090.1 L1026.5,1094.2 L1032.6,1098.2 L1038.7,1102.1 L1044.7,1105.9 L1050.7,1109.6 L1056.7,1113.2 L1062.6,1116.7 L1068.4,1120.0 L1074.1,1123.3 L1079.8,1126.4 L1085.3,1129.4 L1090.8,1132.3 L1096.2,1135.1 L1101.4,1137.7 L1106.5,1140.2 L1111.5,1142.6 L1116.3,1144.9 L1121.0,1147.1 L1125.6,1149.1 L1130.1,1151.0 L1134.4,1152.8 L1138.6,1154.5 L1142.7,1156.2 L1146.7,1157.7 L1150.6,1159.1 L1154.3,1160.5 L1158.0,1161.8 L1161.5,1163.0 L1165.0,1164.1 L1168.3,1165.2 L1171.6,1166.2 L1174.7,1167.1 L1177.8,1168.0 L1180.7,1168.9 L1183.6,1169.7 L1186.4,1170.4 L1189.1,1171.2 L1191.8,1171.9 L1194.3,1172.5 L1196.8,1173.2 L1199.2,1173.8 L1201.6,1174.4 L1203.9,1175.1 L1206.2,1175.6 L1208.4,1176.2 L1210.7,1176.8 L1212.9,1177.3 L1215.1,1177.9 L1217.3,1178.4 L1219.6,1179.0 L1221.8,1179.5 L1224.1,1180.0 L1226.4,1180.6 L1228.8,1181.1 L1231.3,1181.7 L1233.8,1182.2 L1236.4,1182.8 L1239.1,1183.3 L1241.9,1183.9 L1244.8,1184.5 L1247.8,1185.1 L1250.9,1185.7 L1254.2,1186.3 L1257.6,1186.9 L1261.1,1187.6 L1264.8,1188.3 L1268.6,1188.9 L1272.5,1189.6 L1276.6,1190.4 L1280.8,1191.1 L1285.1,1191.8 L1289.6,1192.6 L1294.1,1193.3 L1298.8,1194.1 L1303.5,1194.9 L1308.4,1195.6 L1313.4,1196.4 L1318.4,1197.2 L1323.6,1198.0 L1328.9,1198.8 L1334.2,1199.6 L1339.6,1200.4 L1345.2,1201.2 L1350.8,1202.0 L1356.4,1202.8 L1362.2,1203.6 L1368.0,1204.4 L1373.9,1205.2 L1379.8,1206.0 L1385.8,1206.8 L1391.9,1207.5 L1397.9,1208.3 L1404.0,1209.1 L1410.2,1209.8 L1416.3,1210.6 L1422.4,1211.3 L1428.5,1212.0 L1434.6,1212.7 L1440.7,1213.4 L1446.7,1214.0 L1452.7,1214.7 L1458.7,1215.3 L1464.6,1215.9 L1470.4,1216.5 L1476.1,1217.1 L1481.8,1217.7 L1487.3,1218.2 L1492.8,1218.7 L1498.2,1219.2 L1503.4,1219.7 L1508.5,1220.1 L1513.5,1220.5 L1518.3,1220.9 L1523.0,1221.2 L1527.6,1221.6 L1532.1,1221.9 L1536.4,1222.1 L1540.6,1222.4 L1544.7,1222.7 L1548.7,1222.9 L1552.6,1223.1 L1556.3,1223.3 L1560.0,1223.5 L1563.5,1223.6 L1567.0,1223.8 L1570.3,1223.9 L1573.6,1224.0 L1576.7,1224.2 L1579.8,1224.3 L1582.7,1224.4 L1585.6,1224.5 L1588.4,1224.5 L1591.1,1224.6 L1593.8,1224.7 L1596.3,1224.8 L1598.8,1224.9 L1601.2,1224.9 L1603.6,1225.0 L1605.9,1225.1 L1608.2,1225.1 L1610.4,1225.2 L1612.7,1225.3 L1614.9,1225.3 L1617.1,1225.3 L1619.3,1225.4 L1621.6,1225.4 L1623.8,1225.4 L1626.1,1225.4 L1628.4,1225.4 L1630.8,1225.4 L1633.3,1225.4 L1635.8,1225.4 L1638.4,1225.3 L1641.1,1225.3 L1643.9,1225.2 L1646.8,1225.1 L1649.8,1225.0 L1652.9,1224.9 L1656.2,1224.8 L1659.6,1224.6 L1663.1,1224.5 L1666.8,1224.3 L1670.6,1224.1 L1674.5,1223.9 L1678.6,1223.7 L1682.8,1223.5 L1687.1,1223.2 L1691.6,1223.0 L1696.1,1222.8 L1700.8,1222.5 L1705.5,1222.3 L1710.4,1222.1 L1715.4,1221.9 L1720.4,1221.6 L1725.6,1221.4 L1730.9,1221.2 L1736.2,1221.0 L1741.6,1220.8 L1747.2,1220.7 L1752.8,1220.5 L1758.4,1220.4 L1764.2,1220.3 L1770.0,1220.2 L1775.9,1220.1 L1781.8,1220.1 L1787.8,1220.0 L1793.9,1220.0 L1800.0,1220.0 L1806.1,1220.0 L1812.3,1220.1 L1818.5,1220.1 L1824.8,1220.2 L1831.0,1220.3 L1837.3,1220.4 L1843.5,1220.5 L1849.8,1220.6 L1856.1,1220.7 L1862.3,1220.8 L1868.6,1221.0 L1874.8,1221.1 L1881.0,1221.3 L1887.2,1221.4 L1893.3,1221.6 L1899.4,1221.7 L1905.4,1221.9 L1911.4,1222.1 L1917.3,1222.2 L1923.2,1222.4 L1929.0,1222.6 L1934.7,1222.8 L1940.4,1222.9 L1946.0,1223.1 L1951.6,1223.3 L1957.1,1223.4 L1962.6,1223.6 L1968.0,1223.8 L1973.4,1223.9 L1978.7,1224.1 L1984.0,1224.3 L1989.2,1224.4 L1994.4,1224.6 L1999.6,1224.8 L2004.7,1225.0 L2009.8,1225.1 L2014.8,1225.3 L2019.8,1225.5 L2024.8,1225.7 L2029.8,1225.8 L2034.7,1226.0 L2039.6,1226.2 L2044.5,1226.4" stroke="#008000" stroke-width="5.0" fill="none" transform="translate(-1,0)"/>
<path d="M436.5,253.1 L451.4,276.5 L465.9,299.3 L480.0,321.5 L493.7,343.2 L506.9,364.3 L519.8,384.9 L532.3,404.9 L544.4,424.3 L556.1,443.3 L567.5,461.7 L578.4,479.5 L589.1,496.9 L599.4,513.7 L609.3,530.0 L618.9,545.8 L628.2,561.1 L637.1,575.9 L645.8,590.3 L654.1,604.1 L662.1,617.5 L669.8,630.4 L677.2,642.8 L684.3,654.7 L691.2,666.2 L697.7,677.3 L704.0,687.9 L710.1,698.1 L715.9,707.9 L721.5,717.3 L726.8,726.3 L731.9,734.9 L736.8,743.2 L741.4,751.1 L745.9,758.7 L750.2,766.0 L754.3,773.0 L758.2,779.7 L762.0,786.1 L765.6,792.2 L769.1,798.1 L772.4,803.7 L775.6,809.2 L778.6,814.4 L781.6,819.4 L784.4,824.2 L787.1,828.8 L789.8,833.3 L792.3,837.7 L794.8,841.9 L797.2,846.0 L799.6,849.9 L801.9,853.8 L804.2,857.6 L806.4,861.3 L808.7,864.9 L810.9,868.5 L813.1,872.1 L815.3,875.6 L817.6,879.0 L819.8,882.5 L822.1,886.0 L824.4,889.5 L826.8,893.0 L829.3,896.5 L831.8,900.1 L834.4,903.8 L837.1,907.5 L839.9,911.3 L842.8,915.2 L845.8,919.2 L848.9,923.3 L852.2,927.5 L855.6,931.9 L859.1,936.4 L862.8,941.0 L866.6,945.7 L870.5,950.5 L874.6,955.4 L878.8,960.4 L883.1,965.4 L887.6,970.6 L892.1,975.7 L896.8,981.0 L901.5,986.2 L906.4,991.5 L911.4,996.8 L916.4,1002.1 L921.6,1007.4 L926.9,1012.7 L932.2,1018.0 L937.6,1023.3 L943.2,1028.5 L948.8,1033.7 L954.4,1038.8 L960.2,1043.9 L966.0,1048.9 L971.9,1053.8 L977.8,1058.7 L983.8,1063.4 L989.9,1068.1 L995.9,1072.7 L1002.0,1077.2 L1008.2,1081.6 L1014.3,1085.9 L1020.4,1090.1 L1026.5,1094.2 L1032.6,1098.2 L1038.7,1102.1 L1044.7,1105.9 L1050.7,1109.6 L1056.7,1113.2 L1062.6,1116.7 L1068.4,1120.0 L1074.1,1123.3 L1079.8,1126.4 L1085.3,1129.4 L1090.8,1132.3 L1096.2,1135.1 L1101.4,1137.7 L1106.5,1140.2 L1111.5,1142.6 L1116.3,1144.9 L1121.0,1147.1 L1125.6,1149.1 L1130.1,1151.0 L1134.4,1152.8 L1138.6,1154.5 L1142.7,1156.2 L1146.7,1157.7 L1150.6,1159.1 L1154.3,1160.5 L1158.0,1161.8 L1161.5,1163.0 L1165.0,1164.1 L1168.3,1165.2 L1171.6,1166.2 L1174.7,1167.1 L1177.8,1168.0 L1180.7,1168.9 L1183.6,1169.7 L1186.4,1170.4 L1189.1,1171.2 L1191.8,1171.9 L1194.3,1172.5 L1196.8,1173.2 L1199.2,1173.8 L1201.6,1174.4 L1203.9,1175.1 L1206.2,1175.6 L1208.4,1176.2 L1210.7,1176.8 L1212.9,1177.3 L1215.1,1177.9 L1217.3,1178.4 L1219.6,1179.0 L1221.8,1179.5 L1224.1,1180.0 L1226.4,1180.6 L1228.8,1181.1 L1231.3,1181.7 L1233.8,1182.2 L1236.4,1182.8 L1239.1,1183.3 L1241.9,1183.9 L1244.8,1184.5 L1247.8,1185.1 L1250.9,1185.7 L1254.2,1186.3 L1257.6,1186.9 L1261.1,1187.6 L1264.8,1188.3 L1268.6,1188.9 L1272.5,1189.6 L1276.6,1190.4 L1280.8,1191.1 L1285.1,1191.8 L1289.6,1192.6 L1294.1,1193.3 L1298.8,1194.1 L1303.5,1194.9 L1308.4,1195.6 L1313.4,1196.4 L1318.4,1197.2 L1323.6,1198.0 L1328.9,1198.8 L1334.2,1199.6 L1339.6,1200.4 L1345.2,1201.2 L1350.8,1202.0 L1356.4,1202.8 L1362.2,1203.6 L1368.0,1204.4 L1373.9,1205.2 L1379.8,1206.0 L1385.8,1206.8 L1391.9,1207.5 L1397.9,1208.3 L1404.0,1209.1 L1410.2,1209.8 L1416.3,1210.6 L1422.4,1211.3 L1428.5,1212.0 L1434.6,1212.7 L1440.7,1213.4 L1446.7,1214.0 L1452.7,1214.7 L1458.7,1215.3 L1464.6,1215.9 L1470.4,1216.5 L1476.1,1217.1 L1481.8,1217.7 L1487.3,1218.2 L1492.8,1218.7 L1498.2,1219.2 L1503.4,1219.7 L1508.5,1220.1 L1513.5,1220.5 L1518.3,1220.9 L1523.0,1221.2 L1527.6,1221.6 L1532.1,1221.9 L1536.4,1222.1 L1540.6,1222.4 L1544.7,1222.7 L1548.7,1222.9 L1552.6,1223.1 L1556.3,1223.3 L1560.0,1223.5 L1563.5,1223.6 L1567.0,1223.8 L1570.3,1223.9 L1573.6,1224.0 L1576.7,1224.2 L1579.8,1224.3 L1582.7,1224.4 L1585.6,1224.5 L1588.4,1224.5 L1591.1,1224.6 L1593.8,1224.7 L1596.3,1224.8 L1598.8,1224.9 L1601.2,1224.9 L1603.6,1225.0 L1605.9,1225.1 L1608.2,1225.1 L1610.4,1225.2 L1612.7,1225.3 L1614.9,1225.3 L1617.1,1225.3 L1619.3,1225.4 L1621.6,1225.4 L1623.8,1225.4 L1626.1,1225.4 L1628.4,1225.4 L1630.8,1225.4 L1633.3,1225.4 L1635.8,1225.4 L1638.4,1225.3 L1641.1,1225.3 L1643.9,1225.2 L1646.8,1225.1 L1649.8,1225.0 L1652.9,1224.9 L1656.2,1224.8 L1659.6,1224.6 L1663.1,1224.5 L1666.8,1224.3 L1670.6,1224.1 L1674.5,1223.9 L1678.6,1223.7 L1682.8,1223.5 L1687.1,1223.2 L1691.6,1223.0 L1696.1,1222.8 L1700.8,1222.5 L1705.5,1222.3 L1710.4,1222.1 L1715.4,1221.9 L1720.4,1221.6 L1725.6,1221.4 L1730.9,1221.2 L1736.2,1221.0 L1741.6,1220.8 L1747.2,1220.7 L1752.8,1220.5 L1758.4,1220.4 L1764.2,1220.3 L1770.0,1220.2 L1775.9,1220.1 L1781.8,1220.1 L1787.8,1220.0 L1793.9,1220.0 L1800.0,1220.0 L1806.1,1220.0 L1812.3,1220.1 L1818.5,1220.1 L1824.8,1220.2 L1831.0,1220.3 L1837.3,1220.4 L1843.5,1220.5 L1849.8,1220.6 L1856.1,1220.7 L1862.3,1220.8 L1868.6,1221.0 L1874.8,1221.1 L1881.0,1221.3 L1887.2,1221.4 L1893.3,1221.6 L1899.4,1221.7 L1905.4,1221.9 L1911.4,1222.1 L1917.3,1222.2 L1923.2,1222.4 L1929.0,1222.6 L1934.7,1222.8 L1940.4,1222.9 L1946.0,1223.1 L1951.6,1223.3 L1957.1,1223.4 L1962.6,1223.6 L1968.0,1223.8 L1973.4,1223.9 L1978.7,1224.1 L1984.0,1224.3 L1989.2,1224.4 L1994.4,1224.6 L1999.6,1224.8 L2004.7,1225.0 L2009.8,1225.1 L2014.8,1225.3 L2019.8,1225.5 L2024.8,1225.7 L2029.8,1225.8 L2034.7,1226.0 L2039.6,1226.2 L2044.5,1226.4" stroke="#008000" stroke-width="5.0" fill="none" transform="translate(0,0)"/>
<polygon points="436.5,233.2 456.4,253.1 436.5,272.9 416.6,253.1" fill="#fff" stroke="#008000" stroke-width="1.2"/>
<polygon points="557.5,422.6 577.4,442.5 557.5,462.4 537.7,442.5" fill="#fff" stroke="#008000" stroke-width="1.2"/>
<polygon points="717.5,689.6 737.3,709.5 717.5,729.4 697.6,709.5" fill="#fff" stroke="#008000" stroke-width="1.2"/>
<polygon points="799.5,830.6 819.4,850.5 799.5,870.4 779.7,850.5" fill="#fff" stroke="#008000" stroke-width="1.2"/>
<polygon points="838.5,894.6 858.4,914.5 838.5,934.4 818.6,914.5" fill="#fff" stroke="#008000" stroke-width="1.2"/>
<polygon points="959.5,1036.8 979.4,1056.6 959.5,1076.4 939.7,1056.6" fill="#fff" stroke="#008000" stroke-width="1.2"/>
<polygon points="1119.5,1132.8 1139.3,1152.6 1119.5,1172.4 1099.6,1152.6" fill="#fff" stroke="#008000" stroke-width="1.2"/>
<polygon points="1201.5,1154.7 1221.4,1174.5 1201.5,1194.3 1181.7,1174.5" fill="#fff" stroke="#008000" stroke-width="1.2"/>
<polygon points="1240.5,1164.8 1260.3,1184.6 1240.5,1204.4 1220.7,1184.6" fill="#fff" stroke="#008000" stroke-width="1.2"/>
<polygon points="1361.5,1185.0 1381.4,1204.8 1361.5,1224.6 1341.7,1204.8" fill="#fff" stroke="#008000" stroke-width="1.2"/>
<polygon points="1521.5,1202.9 1541.3,1222.7 1521.5,1242.5 1501.6,1222.7" fill="#fff" stroke="#008000" stroke-width="1.2"/>
<polygon points="1603.5,1205.1 1623.4,1224.9 1603.5,1244.8 1583.7,1224.9" fill="#fff" stroke="#008000" stroke-width="1.2"/>
<polygon points="1642.5,1206.6 1662.3,1226.4 1642.5,1246.2 1622.7,1226.4" fill="#fff" stroke="#008000" stroke-width="1.2"/>
<polygon points="1763.5,1198.2 1783.4,1218.1 1763.5,1237.9 1743.7,1218.1" fill="#fff" stroke="#008000" stroke-width="1.2"/>
<polygon points="1923.5,1202.5 1943.3,1222.3 1923.5,1242.1 1903.6,1222.3" fill="#fff" stroke="#008000" stroke-width="1.2"/>
<polygon points="2005.5,1205.1 2025.4,1224.9 2005.5,1244.8 1985.7,1224.9" fill="#fff" stroke="#008000" stroke-width="1.2"/>
<polygon points="2044.5,1206.6 2064.3,1226.4 2044.5,1246.2 2024.7,1226.4" fill="#fff" stroke="#008000" stroke-width="1.2"/>
<path d="M436.5,357.0 L451.4,385.0 L465.9,412.1 L480.0,438.4 L493.7,463.9 L506.9,488.6 L519.8,512.6 L532.3,535.8 L544.4,558.2 L556.1,579.9 L567.5,601.0 L578.4,621.3 L589.1,641.0 L599.4,659.9 L609.3,678.3 L618.9,696.0 L628.2,713.1 L637.1,729.6 L645.8,745.5 L654.1,760.8 L662.1,775.6 L669.8,789.8 L677.2,803.5 L684.3,816.7 L691.2,829.4 L697.7,841.6 L704.0,853.3 L710.1,864.6 L715.9,875.5 L721.5,885.9 L726.8,895.9 L731.9,905.5 L736.8,914.8 L741.4,923.6 L745.9,932.1 L750.2,940.2 L754.3,948.0 L758.2,955.5 L762.0,962.7 L765.6,969.5 L769.1,976.1 L772.4,982.4 L775.6,988.5 L778.6,994.3 L781.6,999.9 L784.4,1005.3 L787.1,1010.5 L789.8,1015.4 L792.3,1020.2 L794.8,1024.9 L797.2,1029.4 L799.6,1033.7 L801.9,1037.9 L804.2,1042.0 L806.4,1046.0 L808.7,1049.9 L810.9,1053.7 L813.1,1057.4 L815.3,1061.1 L817.6,1064.6 L819.8,1068.2 L822.1,1071.7 L824.4,1075.2 L826.8,1078.7 L829.3,1082.2 L831.8,1085.7 L834.4,1089.2 L837.1,1092.8 L839.9,1096.3 L842.8,1100.0 L845.8,1103.7 L848.9,1107.5 L852.2,1111.4 L855.6,1115.3 L859.1,1119.4 L862.8,1123.5 L866.6,1127.7 L870.5,1132.0 L874.6,1136.3 L878.8,1140.7 L883.1,1145.1 L887.6,1149.6 L892.1,1154.1 L896.8,1158.5 L901.5,1163.0 L906.4,1167.5 L911.4,1172.0 L916.4,1176.5 L921.6,1180.9 L926.9,1185.3 L932.2,1189.6 L937.6,1193.9 L943.2,1198.1 L948.8,1202.3 L954.4,1206.4 L960.2,1210.4 L966.0,1214.3 L971.9,1218.1 L977.8,1221.8 L983.8,1225.4 L989.9,1228.9 L995.9,1232.3 L1002.0,1235.6 L1008.2,1238.8 L1014.3,1241.9 L1020.4,1244.9 L1026.5,1247.8 L1032.6,1250.6 L1038.7,1253.3 L1044.7,1255.9 L1050.7,1258.4 L1056.7,1260.8 L1062.6,1263.1 L1068.4,1265.4 L1074.1,1267.5 L1079.8,1269.5 L1085.3,1271.5 L1090.8,1273.3 L1096.2,1275.1 L1101.4,1276.8 L1106.5,1278.4 L1111.5,1279.9 L1116.3,1281.3 L1121.0,1282.6 L1125.6,1283.8 L1130.1,1285.0 L1134.4,1286.1 L1138.6,1287.1 L1142.7,1288.1 L1146.7,1289.0 L1150.6,1289.8 L1154.3,1290.6 L1158.0,1291.3 L1161.5,1291.9 L1165.0,1292.5 L1168.3,1293.1 L1171.6,1293.6 L1174.7,1294.1 L1177.8,1294.6 L1180.7,1295.0 L1183.6,1295.4 L1186.4,1295.8 L1189.1,1296.1 L1191.8,1296.5 L1194.3,1296.8 L1196.8,1297.1 L1199.2,1297.4 L1201.6,1297.6 L1203.9,1297.9 L1206.2,1298.1 L1208.4,1298.4 L1210.7,1298.6 L1212.9,1298.8 L1215.1,1299.1 L1217.3,1299.3 L1219.6,1299.5 L1221.8,1299.7 L1224.1,1299.9 L1226.4,1300.0 L1228.8,1300.2 L1231.3,1300.4 L1233.8,1300.6 L1236.4,1300.8 L1239.1,1300.9 L1241.9,1301.1 L1244.8,1301.3 L1247.8,1301.4 L1250.9,1301.6 L1254.2,1301.8 L1257.6,1301.9 L1261.1,1302.1 L1264.8,1302.3 L1268.6,1302.5 L1272.5,1302.6 L1276.6,1302.8 L1280.8,1303.0 L1285.1,1303.2 L1289.6,1303.4 L1294.1,1303.6 L1298.8,1303.8 L1303.5,1304.0 L1308.4,1304.2 L1313.4,1304.4 L1318.4,1304.6 L1323.6,1304.8 L1328.9,1305.0 L1334.2,1305.2 L1339.6,1305.4 L1345.2,1305.6 L1350.8,1305.8 L1356.4,1306.1 L1362.2,1306.3 L1368.0,1306.5 L1373.9,1306.8 L1379.8,1307.0 L1385.8,1307.2 L1391.9,1307.5 L1397.9,1307.7 L1404.0,1308.0 L1410.2,1308.2 L1416.3,1308.5 L1422.4,1308.7 L1428.5,1309.0 L1434.6,1309.2 L1440.7,1309.5 L1446.7,1309.7 L1452.7,1310.0 L1458.7,1310.2 L1464.6,1310.5 L1470.4,1310.7 L1476.1,1310.9 L1481.8,1311.2 L1487.3,1311.4 L1492.8,1311.6 L1498.2,1311.8 L1503.4,1312.1 L1508.5,1312.3 L1513.5,1312.5 L1518.3,1312.7 L1523.0,1312.9 L1527.6,1313.1 L1532.1,1313.2 L1536.4,1313.4 L1540.6,1313.6 L1544.7,1313.8 L1548.7,1313.9 L1552.6,1314.1 L1556.3,1314.3 L1560.0,1314.4 L1563.5,1314.6 L1567.0,1314.7 L1570.3,1314.9 L1573.6,1315.0 L1576.7,1315.2 L1579.8,1315.3 L1582.7,1315.5 L1585.6,1315.6 L1588.4,1315.8 L1591.1,1315.9 L1593.8,1316.1 L1596.3,1316.2 L1598.8,1316.3 L1601.2,1316.5 L1603.6,1316.6 L1605.9,1316.8 L1608.2,1316.9 L1610.4,1317.0 L1612.7,1317.1 L1614.9,1317.2 L1617.1,1317.3 L1619.3,1317.4 L1621.6,1317.4 L1623.8,1317.5 L1626.1,1317.5 L1628.4,1317.5 L1630.8,1317.5 L1633.3,1317.5 L1635.8,1317.4 L1638.4,1317.4 L1641.1,1317.2 L1643.9,1317.1 L1646.8,1317.0 L1649.8,1316.8 L1652.9,1316.5 L1656.2,1316.3 L1659.6,1316.0 L1663.1,1315.7 L1666.8,1315.3 L1670.6,1315.0 L1674.5,1314.6 L1678.6,1314.1 L1682.8,1313.7 L1687.1,1313.3 L1691.6,1312.8 L1696.1,1312.4 L1700.8,1311.9 L1705.5,1311.5 L1710.4,1311.0 L1715.4,1310.6 L1720.4,1310.2 L1725.6,1309.8 L1730.9,1309.4 L1736.2,1309.0 L1741.6,1308.7 L1747.2,1308.4 L1752.8,1308.1 L1758.4,1307.8 L1764.2,1307.6 L1770.0,1307.5 L1775.9,1307.3 L1781.8,1307.3 L1787.8,1307.2 L1793.9,1307.2 L1800.0,1307.3 L1806.1,1307.4 L1812.3,1307.5 L1818.5,1307.6 L1824.8,1307.8 L1831.0,1308.0 L1837.3,1308.2 L1843.5,1308.4 L1849.8,1308.7 L1856.1,1308.9 L1862.3,1309.2 L1868.6,1309.5 L1874.8,1309.8 L1881.0,1310.1 L1887.2,1310.4 L1893.3,1310.8 L1899.4,1311.1 L1905.4,1311.4 L1911.4,1311.7 L1917.3,1312.0 L1923.2,1312.3 L1929.0,1312.6 L1934.7,1312.9 L1940.4,1313.2 L1946.0,1313.5 L1951.6,1313.8 L1957.1,1314.1 L1962.6,1314.3 L1968.0,1314.6 L1973.4,1314.9 L1978.7,1315.2 L1984.0,1315.5 L1989.2,1315.8 L1994.4,1316.1 L1999.6,1316.4 L2004.7,1316.7 L2009.8,1317.0 L2014.8,1317.3 L2019.8,1317.7 L2024.8,1318.0 L2029.8,1318.4 L2034.7,1318.8 L2039.6,1319.2 L2044.5,1319.6" stroke="#900080" stroke-width="5.0" fill="none" transform="translate(-1,0)"/>
<path d="M436.5,357.0 L451.4,385.0 L465.9,412.1 L480.0,438.4 L493.7,463.9 L506.9,488.6 L519.8,512.6 L532.3,535.8 L544.4,558.2 L556.1,579.9 L567.5,601.0 L578.4,621.3 L589.1,641.0 L599.4,659.9 L609.3,678.3 L618.9,696.0 L628.2,713.1 L637.1,729.6 L645.8,745.5 L654.1,760.8 L662.1,775.6 L669.8,789.8 L677.2,803.5 L684.3,816.7 L691.2,829.4 L697.7,841.6 L704.0,853.3 L710.1,864.6 L715.9,875.5 L721.5,885.9 L726.8,895.9 L731.9,905.5 L736.8,914.8 L741.4,923.6 L745.9,932.1 L750.2,940.2 L754.3,948.0 L758.2,955.5 L762.0,962.7 L765.6,969.5 L769.1,976.1 L772.4,982.4 L775.6,988.5 L778.6,994.3 L781.6,999.9 L784.4,1005.3 L787.1,1010.5 L789.8,1015.4 L792.3,1020.2 L794.8,1024.9 L797.2,1029.4 L799.6,1033.7 L801.9,1037.9 L804.2,1042.0 L806.4,1046.0 L808.7,1049.9 L810.9,1053.7 L813.1,1057.4 L815.3,1061.1 L817.6,1064.6 L819.8,1068.2 L822.1,1071.7 L824.4,1075.2 L826.8,1078.7 L829.3,1082.2 L831.8,1085.7 L834.4,1089.2 L837.1,1092.8 L839.9,1096.3 L842.8,1100.0 L845.8,1103.7 L848.9,1107.5 L852.2,1111.4 L855.6,1115.3 L859.1,1119.4 L862.8,1123.5 L866.6,1127.7 L870.5,1132.0 L874.6,1136.3 L878.8,1140.7 L883.1,1145.1 L887.6,1149.6 L892.1,1154.1 L896.8,1158.5 L901.5,1163.0 L906.4,1167.5 L911.4,1172.0 L916.4,1176.5 L921.6,1180.9 L926.9,1185.3 L932.2,1189.6 L937.6,1193.9 L943.2,1198.1 L948.8,1202.3 L954.4,1206.4 L960.2,1210.4 L966.0,1214.3 L971.9,1218.1 L977.8,1221.8 L983.8,1225.4 L989.9,1228.9 L995.9,1232.3 L1002.0,1235.6 L1008.2,1238.8 L1014.3,1241.9 L1020.4,1244.9 L1026.5,1247.8 L1032.6,1250.6 L1038.7,1253.3 L1044.7,1255.9 L1050.7,1258.4 L1056.7,1260.8 L1062.6,1263.1 L1068.4,1265.4 L1074.1,1267.5 L1079.8,1269.5 L1085.3,1271.5 L1090.8,1273.3 L1096.2,1275.1 L1101.4,1276.8 L1106.5,1278.4 L1111.5,1279.9 L1116.3,1281.3 L1121.0,1282.6 L1125.6,1283.8 L1130.1,1285.0 L1134.4,1286.1 L1138.6,1287.1 L1142.7,1288.1 L1146.7,1289.0 L1150.6,1289.8 L1154.3,1290.6 L1158.0,1291.3 L1161.5,1291.9 L1165.0,1292.5 L1168.3,1293.1 L1171.6,1293.6 L1174.7,1294.1 L1177.8,1294.6 L1180.7,1295.0 L1183.6,1295.4 L1186.4,1295.8 L1189.1,1296.1 L1191.8,1296.5 L1194.3,1296.8 L1196.8,1297.1 L1199.2,1297.4 L1201.6,1297.6 L1203.9,1297.9 L1206.2,1298.1 L1208.4,1298.4 L1210.7,1298.6 L1212.9,1298.8 L1215.1,1299.1 L1217.3,1299.3 L1219.6,1299.5 L1221.8,1299.7 L1224.1,1299.9 L1226.4,1300.0 L1228.8,1300.2 L1231.3,1300.4 L1233.8,1300.6 L1236.4,1300.8 L1239.1,1300.9 L1241.9,1301.1 L1244.8,1301.3 L1247.8,1301.4 L1250.9,1301.6 L1254.2,1301.8 L1257.6,1301.9 L1261.1,1302.1 L1264.8,1302.3 L1268.6,1302.5 L1272.5,1302.6 L1276.6,1302.8 L1280.8,1303.0 L1285.1,1303.2 L1289.6,1303.4 L1294.1,1303.6 L1298.8,1303.8 L1303.5,1304.0 L1308.4,1304.2 L1313.4,1304.4 L1318.4,1304.6 L1323.6,1304.8 L1328.9,1305.0 L1334.2,1305.2 L1339.6,1305.4 L1345.2,1305.6 L1350.8,1305.8 L1356.4,1306.1 L1362.2,1306.3 L1368.0,1306.5 L1373.9,1306.8 L1379.8,1307.0 L1385.8,1307.2 L1391.9,1307.5 L1397.9,1307.7 L1404.0,1308.0 L1410.2,1308.2 L1416.3,1308.5 L1422.4,1308.7 L1428.5,1309.0 L1434.6,1309.2 L1440.7,1309.5 L1446.7,1309.7 L1452.7,1310.0 L1458.7,1310.2 L1464.6,1310.5 L1470.4,1310.7 L1476.1,1310.9 L1481.8,1311.2 L1487.3,1311.4 L1492.8,1311.6 L1498.2,1311.8 L1503.4,1312.1 L1508.5,1312.3 L1513.5,1312.5 L1518.3,1312.7 L1523.0,1312.9 L1527.6,1313.1 L1532.1,1313.2 L1536.4,1313.4 L1540.6,1313.6 L1544.7,1313.8 L1548.7,1313.9 L1552.6,1314.1 L1556.3,1314.3 L1560.0,1314.4 L1563.5,1314.6 L1567.0,1314.7 L1570.3,1314.9 L1573.6,1315.0 L1576.7,1315.2 L1579.8,1315.3 L1582.7,1315.5 L1585.6,1315.6 L1588.4,1315.8 L1591.1,1315.9 L1593.8,1316.1 L1596.3,1316.2 L1598.8,1316.3 L1601.2,1316.5 L1603.6,1316.6 L1605.9,1316.8 L1608.2,1316.9 L1610.4,1317.0 L1612.7,1317.1 L1614.9,1317.2 L1617.1,1317.3 L1619.3,1317.4 L1621.6,1317.4 L1623.8,1317.5 L1626.1,1317.5 L1628.4,1317.5 L1630.8,1317.5 L1633.3,1317.5 L1635.8,1317.4 L1638.4,1317.4 L1641.1,1317.2 L1643.9,1317.1 L1646.8,1317.0 L1649.8,1316.8 L1652.9,1316.5 L1656.2,1316.3 L1659.6,1316.0 L1663.1,1315.7 L1666.8,1315.3 L1670.6,1315.0 L1674.5,1314.6 L1678.6,1314.1 L1682.8,1313.7 L1687.1,1313.3 L1691.6,1312.8 L1696.1,1312.4 L1700.8,1311.9 L1705.5,1311.5 L1710.4,1311.0 L1715.4,1310.6 L1720.4,1310.2 L1725.6,1309.8 L1730.9,1309.4 L1736.2,1309.0 L1741.6,1308.7 L1747.2,1308.4 L1752.8,1308.1 L1758.4,1307.8 L1764.2,1307.6 L1770.0,1307.5 L1775.9,1307.3 L1781.8,1307.3 L1787.8,1307.2 L1793.9,1307.2 L1800.0,1307.3 L1806.1,1307.4 L1812.3,1307.5 L1818.5,1307.6 L1824.8,1307.8 L1831.0,1308.0 L1837.3,1308.2 L1843.5,1308.4 L1849.8,1308.7 L1856.1,1308.9 L1862.3,1309.2 L1868.6,1309.5 L1874.8,1309.8 L1881.0,1310.1 L1887.2,1310.4 L1893.3,1310.8 L1899.4,1311.1 L1905.4,1311.4 L1911.4,1311.7 L1917.3,1312.0 L1923.2,1312.3 L1929.0,1312.6 L1934.7,1312.9 L1940.4,1313.2 L1946.0,1313.5 L1951.6,1313.8 L1957.1,1314.1 L1962.6,1314.3 L1968.0,1314.6 L1973.4,1314.9 L1978.7,1315.2 L1984.0,1315.5 L1989.2,1315.8 L1994.4,1316.1 L1999.6,1316.4 L2004.7,1316.7 L2009.8,1317.0 L2014.8,1317.3 L2019.8,1317.7 L2024.8,1318.0 L2029.8,1318.4 L2034.7,1318.8 L2039.6,1319.2 L2044.5,1319.6" stroke="#900080" stroke-width="5.0" fill="none" transform="translate(0,0)"/>
<polygon points="436.5,337.6 440.6,351.0 454.0,351.0 443.2,359.3 447.3,372.7 436.5,364.4 425.7,372.7 429.8,359.3 419.0,351.0 432.4,351.0" fill="#fff" stroke="#900080" stroke-width="1.2" stroke-linejoin="round"/>
<polygon points="557.5,564.6 561.6,578.0 575.0,578.0 564.2,586.3 568.3,599.7 557.5,591.4 546.7,599.7 550.8,586.3 540.0,578.0 553.4,578.0" fill="#fff" stroke="#900080" stroke-width="1.2" stroke-linejoin="round"/>
<polygon points="717.5,856.1 721.6,869.5 735.0,869.5 724.2,877.8 728.3,891.2 717.5,882.9 706.7,891.2 710.8,877.8 700.0,869.5 713.4,869.5" fill="#fff" stroke="#900080" stroke-width="1.2" stroke-linejoin="round"/>
<polygon points="799.5,1016.6 803.6,1030.0 817.0,1030.0 806.2,1038.3 810.3,1051.7 799.5,1043.4 788.7,1051.7 792.8,1038.3 782.0,1030.0 795.4,1030.0" fill="#fff" stroke="#900080" stroke-width="1.2" stroke-linejoin="round"/>
<polygon points="838.5,1082.6 842.6,1096.0 856.0,1096.0 845.2,1104.3 849.3,1117.7 838.5,1109.4 827.7,1117.7 831.8,1104.3 821.0,1096.0 834.4,1096.0" fill="#fff" stroke="#900080" stroke-width="1.2" stroke-linejoin="round"/>
<polygon points="959.5,1204.8 963.6,1218.2 977.0,1218.2 966.2,1226.5 970.3,1239.9 959.5,1231.6 948.7,1239.9 952.8,1226.5 942.0,1218.2 955.4,1218.2" fill="#fff" stroke="#900080" stroke-width="1.2" stroke-linejoin="round"/>
<polygon points="1119.5,1267.6 1123.6,1281.0 1137.0,1281.0 1126.2,1289.3 1130.3,1302.7 1119.5,1294.4 1108.7,1302.7 1112.8,1289.3 1102.0,1281.0 1115.4,1281.0" fill="#fff" stroke="#900080" stroke-width="1.2" stroke-linejoin="round"/>
<polygon points="1201.5,1278.6 1205.6,1292.0 1219.0,1292.0 1208.2,1300.3 1212.3,1313.7 1201.5,1305.4 1190.7,1313.7 1194.8,1300.3 1184.0,1292.0 1197.4,1292.0" fill="#fff" stroke="#900080" stroke-width="1.2" stroke-linejoin="round"/>
<polygon points="1240.5,1282.2 1244.6,1295.6 1258.0,1295.6 1247.2,1303.9 1251.3,1317.3 1240.5,1309.0 1229.7,1317.3 1233.8,1303.9 1223.0,1295.6 1236.4,1295.6" fill="#fff" stroke="#900080" stroke-width="1.2" stroke-linejoin="round"/>
<polygon points="1361.5,1286.8 1365.6,1300.2 1379.0,1300.2 1368.2,1308.5 1372.3,1321.9 1361.5,1313.6 1350.7,1321.9 1354.8,1308.5 1344.0,1300.2 1357.4,1300.2" fill="#fff" stroke="#900080" stroke-width="1.2" stroke-linejoin="round"/>
<polygon points="1521.5,1293.4 1525.6,1306.8 1539.0,1306.8 1528.2,1315.1 1532.3,1328.5 1521.5,1320.2 1510.7,1328.5 1514.8,1315.1 1504.0,1306.8 1517.4,1306.8" fill="#fff" stroke="#900080" stroke-width="1.2" stroke-linejoin="round"/>
<polygon points="1603.5,1296.8 1607.6,1310.2 1621.0,1310.2 1610.2,1318.5 1614.3,1331.9 1603.5,1323.6 1592.7,1331.9 1596.8,1318.5 1586.0,1310.2 1599.4,1310.2" fill="#fff" stroke="#900080" stroke-width="1.2" stroke-linejoin="round"/>
<polygon points="1642.5,1300.2 1646.6,1313.6 1660.0,1313.6 1649.2,1321.9 1653.3,1335.3 1642.5,1327.0 1631.7,1335.3 1635.8,1321.9 1625.0,1313.6 1638.4,1313.6" fill="#fff" stroke="#900080" stroke-width="1.2" stroke-linejoin="round"/>
<polygon points="1763.5,1283.7 1767.6,1297.1 1781.0,1297.1 1770.2,1305.4 1774.3,1318.8 1763.5,1310.5 1752.7,1318.8 1756.8,1305.4 1746.0,1297.1 1759.4,1297.1" fill="#fff" stroke="#900080" stroke-width="1.2" stroke-linejoin="round"/>
<polygon points="1923.5,1293.4 1927.6,1306.8 1941.0,1306.8 1930.2,1315.1 1934.3,1328.5 1923.5,1320.2 1912.7,1328.5 1916.8,1315.1 1906.0,1306.8 1919.4,1306.8" fill="#fff" stroke="#900080" stroke-width="1.2" stroke-linejoin="round"/>
<polygon points="2005.5,1296.8 2009.6,1310.2 2023.0,1310.2 2012.2,1318.5 2016.3,1331.9 2005.5,1323.6 1994.7,1331.9 1998.8,1318.5 1988.0,1310.2 2001.4,1310.2" fill="#fff" stroke="#900080" stroke-width="1.2" stroke-linejoin="round"/>
<polygon points="2044.5,1300.2 2048.6,1313.6 2062.0,1313.6 2051.2,1321.9 2055.3,1335.3 2044.5,1327.0 2033.7,1335.3 2037.8,1321.9 2027.0,1313.6 2040.4,1313.6" fill="#fff" stroke="#900080" stroke-width="1.2" stroke-linejoin="round"/>
<path d="M436.5,297.1 L451.4,320.0 L465.9,342.4 L480.0,364.3 L493.7,385.8 L506.9,406.7 L519.8,427.2 L532.3,447.2 L544.4,466.7 L556.1,485.7 L567.5,504.3 L578.4,522.4 L589.1,540.0 L599.4,557.1 L609.3,573.7 L618.9,589.8 L628.2,605.5 L637.1,620.7 L645.8,635.4 L654.1,649.6 L662.1,663.4 L669.8,676.7 L677.2,689.5 L684.3,701.8 L691.2,713.7 L697.7,725.0 L704.0,736.0 L710.1,746.4 L715.9,756.5 L721.5,766.1 L726.8,775.3 L731.9,784.1 L736.8,792.6 L741.4,800.7 L745.9,808.5 L750.2,815.9 L754.3,823.0 L758.2,829.9 L762.0,836.4 L765.6,842.7 L769.1,848.7 L772.4,854.5 L775.6,860.0 L778.6,865.3 L781.6,870.5 L784.4,875.4 L787.1,880.2 L789.8,884.9 L792.3,889.4 L794.8,893.8 L797.2,898.1 L799.6,902.2 L801.9,906.3 L804.2,910.3 L806.4,914.2 L808.7,918.1 L810.9,921.9 L813.1,925.7 L815.3,929.4 L817.6,933.1 L819.8,936.8 L822.1,940.5 L824.4,944.2 L826.8,947.9 L829.3,951.6 L831.8,955.4 L834.4,959.2 L837.1,963.1 L839.9,967.0 L842.8,971.1 L845.8,975.1 L848.9,979.3 L852.2,983.6 L855.6,988.0 L859.1,992.5 L862.8,997.2 L866.6,1001.9 L870.5,1006.6 L874.6,1011.5 L878.8,1016.4 L883.1,1021.3 L887.6,1026.3 L892.1,1031.4 L896.8,1036.5 L901.5,1041.5 L906.4,1046.6 L911.4,1051.7 L916.4,1056.8 L921.6,1061.9 L926.9,1067.0 L932.2,1072.0 L937.6,1076.9 L943.2,1081.9 L948.8,1086.7 L954.4,1091.5 L960.2,1096.2 L966.0,1100.9 L971.9,1105.4 L977.8,1109.9 L983.8,1114.2 L989.9,1118.5 L995.9,1122.6 L1002.0,1126.7 L1008.2,1130.7 L1014.3,1134.5 L1020.4,1138.3 L1026.5,1142.0 L1032.6,1145.6 L1038.7,1149.0 L1044.7,1152.4 L1050.7,1155.7 L1056.7,1158.9 L1062.6,1161.9 L1068.4,1164.9 L1074.1,1167.8 L1079.8,1170.5 L1085.3,1173.2 L1090.8,1175.8 L1096.2,1178.2 L1101.4,1180.5 L1106.5,1182.8 L1111.5,1184.9 L1116.3,1186.9 L1121.0,1188.9 L1125.6,1190.7 L1130.1,1192.5 L1134.4,1194.1 L1138.6,1195.7 L1142.7,1197.2 L1146.7,1198.6 L1150.6,1199.9 L1154.3,1201.2 L1158.0,1202.4 L1161.5,1203.5 L1165.0,1204.6 L1168.3,1205.6 L1171.6,1206.6 L1174.7,1207.5 L1177.8,1208.4 L1180.7,1209.2 L1183.6,1210.0 L1186.4,1210.7 L1189.1,1211.5 L1191.8,1212.2 L1194.3,1212.8 L1196.8,1213.5 L1199.2,1214.1 L1201.6,1214.8 L1203.9,1215.4 L1206.2,1216.0 L1208.4,1216.5 L1210.7,1217.1 L1212.9,1217.7 L1215.1,1218.2 L1217.3,1218.7 L1219.6,1219.3 L1221.8,1219.8 L1224.1,1220.4 L1226.4,1220.9 L1228.8,1221.4 L1231.3,1222.0 L1233.8,1222.5 L1236.4,1223.1 L1239.1,1223.6 L1241.9,1224.2 L1244.8,1224.8 L1247.8,1225.4 L1250.9,1226.0 L1254.2,1226.6 L1257.6,1227.2 L1261.1,1227.9 L1264.8,1228.6 L1268.6,1229.2 L1272.5,1229.9 L1276.6,1230.7 L1280.8,1231.4 L1285.1,1232.2 L1289.6,1232.9 L1294.1,1233.7 L1298.8,1234.5 L1303.5,1235.3 L1308.4,1236.1 L1313.4,1236.9 L1318.4,1237.8 L1323.6,1238.6 L1328.9,1239.5 L1334.2,1240.4 L1339.6,1241.2 L1345.2,1242.1 L1350.8,1243.0 L1356.4,1243.9 L1362.2,1244.9 L1368.0,1245.8 L1373.9,1246.7 L1379.8,1247.6 L1385.8,1248.6 L1391.9,1249.5 L1397.9,1250.5 L1404.0,1251.4 L1410.2,1252.3 L1416.3,1253.3 L1422.4,1254.2 L1428.5,1255.1 L1434.6,1256.0 L1440.7,1256.9 L1446.7,1257.8 L1452.7,1258.6 L1458.7,1259.5 L1464.6,1260.3 L1470.4,1261.1 L1476.1,1261.9 L1481.8,1262.6 L1487.3,1263.3 L1492.8,1264.0 L1498.2,1264.7 L1503.4,1265.3 L1508.5,1265.9 L1513.5,1266.5 L1518.3,1267.0 L1523.0,1267.5 L1527.6,1267.9 L1532.1,1268.3 L1536.4,1268.7 L1540.6,1269.1 L1544.7,1269.5 L1548.7,1269.8 L1552.6,1270.1 L1556.3,1270.3 L1560.0,1270.6 L1563.5,1270.8 L1567.0,1271.0 L1570.3,1271.2 L1573.6,1271.4 L1576.7,1271.6 L1579.8,1271.7 L1582.7,1271.9 L1585.6,1272.0 L1588.4,1272.2 L1591.1,1272.3 L1593.8,1272.4 L1596.3,1272.5 L1598.8,1272.6 L1601.2,1272.7 L1603.6,1272.8 L1605.9,1272.9 L1608.2,1273.0 L1610.4,1273.1 L1612.7,1273.2 L1614.9,1273.2 L1617.1,1273.3 L1619.3,1273.3 L1621.6,1273.3 L1623.8,1273.3 L1626.1,1273.3 L1628.4,1273.2 L1630.8,1273.2 L1633.3,1273.1 L1635.8,1273.0 L1638.4,1272.8 L1641.1,1272.6 L1643.9,1272.4 L1646.8,1272.2 L1649.8,1271.9 L1652.9,1271.6 L1656.2,1271.3 L1659.6,1270.9 L1663.1,1270.5 L1666.8,1270.0 L1670.6,1269.6 L1674.5,1269.1 L1678.6,1268.6 L1682.8,1268.0 L1687.1,1267.5 L1691.6,1267.0 L1696.1,1266.4 L1700.8,1265.9 L1705.5,1265.3 L1710.4,1264.8 L1715.4,1264.3 L1720.4,1263.8 L1725.6,1263.4 L1730.9,1262.9 L1736.2,1262.5 L1741.6,1262.1 L1747.2,1261.8 L1752.8,1261.5 L1758.4,1261.3 L1764.2,1261.1 L1770.0,1260.9 L1775.9,1260.8 L1781.8,1260.8 L1787.8,1260.8 L1793.9,1260.9 L1800.0,1261.0 L1806.1,1261.2 L1812.3,1261.4 L1818.5,1261.6 L1824.8,1261.9 L1831.0,1262.2 L1837.3,1262.5 L1843.5,1262.9 L1849.8,1263.2 L1856.1,1263.6 L1862.3,1264.0 L1868.6,1264.5 L1874.8,1264.9 L1881.0,1265.3 L1887.2,1265.8 L1893.3,1266.2 L1899.4,1266.6 L1905.4,1267.1 L1911.4,1267.5 L1917.3,1267.9 L1923.2,1268.3 L1929.0,1268.6 L1934.7,1269.0 L1940.4,1269.3 L1946.0,1269.7 L1951.6,1270.0 L1957.1,1270.3 L1962.6,1270.6 L1968.0,1270.9 L1973.4,1271.2 L1978.7,1271.5 L1984.0,1271.8 L1989.2,1272.1 L1994.4,1272.4 L1999.6,1272.6 L2004.7,1272.9 L2009.8,1273.2 L2014.8,1273.5 L2019.8,1273.8 L2024.8,1274.1 L2029.8,1274.4 L2034.7,1274.7 L2039.6,1275.0 L2044.5,1275.3" stroke="#008000" stroke-width="5.0" fill="none" transform="translate(-1,0)"/>
<path d="M436.5,297.1 L451.4,320.0 L465.9,342.4 L480.0,364.3 L493.7,385.8 L506.9,406.7 L519.8,427.2 L532.3,447.2 L544.4,466.7 L556.1,485.7 L567.5,504.3 L578.4,522.4 L589.1,540.0 L599.4,557.1 L609.3,573.7 L618.9,589.8 L628.2,605.5 L637.1,620.7 L645.8,635.4 L654.1,649.6 L662.1,663.4 L669.8,676.7 L677.2,689.5 L684.3,701.8 L691.2,713.7 L697.7,725.0 L704.0,736.0 L710.1,746.4 L715.9,756.5 L721.5,766.1 L726.8,775.3 L731.9,784.1 L736.8,792.6 L741.4,800.7 L745.9,808.5 L750.2,815.9 L754.3,823.0 L758.2,829.9 L762.0,836.4 L765.6,842.7 L769.1,848.7 L772.4,854.5 L775.6,860.0 L778.6,865.3 L781.6,870.5 L784.4,875.4 L787.1,880.2 L789.8,884.9 L792.3,889.4 L794.8,893.8 L797.2,898.1 L799.6,902.2 L801.9,906.3 L804.2,910.3 L806.4,914.2 L808.7,918.1 L810.9,921.9 L813.1,925.7 L815.3,929.4 L817.6,933.1 L819.8,936.8 L822.1,940.5 L824.4,944.2 L826.8,947.9 L829.3,951.6 L831.8,955.4 L834.4,959.2 L837.1,963.1 L839.9,967.0 L842.8,971.1 L845.8,975.1 L848.9,979.3 L852.2,983.6 L855.6,988.0 L859.1,992.5 L862.8,997.2 L866.6,1001.9 L870.5,1006.6 L874.6,1011.5 L878.8,1016.4 L883.1,1021.3 L887.6,1026.3 L892.1,1031.4 L896.8,1036.5 L901.5,1041.5 L906.4,1046.6 L911.4,1051.7 L916.4,1056.8 L921.6,1061.9 L926.9,1067.0 L932.2,1072.0 L937.6,1076.9 L943.2,1081.9 L948.8,1086.7 L954.4,1091.5 L960.2,1096.2 L966.0,1100.9 L971.9,1105.4 L977.8,1109.9 L983.8,1114.2 L989.9,1118.5 L995.9,1122.6 L1002.0,1126.7 L1008.2,1130.7 L1014.3,1134.5 L1020.4,1138.3 L1026.5,1142.0 L1032.6,1145.6 L1038.7,1149.0 L1044.7,1152.4 L1050.7,1155.7 L1056.7,1158.9 L1062.6,1161.9 L1068.4,1164.9 L1074.1,1167.8 L1079.8,1170.5 L1085.3,1173.2 L1090.8,1175.8 L1096.2,1178.2 L1101.4,1180.5 L1106.5,1182.8 L1111.5,1184.9 L1116.3,1186.9 L1121.0,1188.9 L1125.6,1190.7 L1130.1,1192.5 L1134.4,1194.1 L1138.6,1195.7 L1142.7,1197.2 L1146.7,1198.6 L1150.6,1199.9 L1154.3,1201.2 L1158.0,1202.4 L1161.5,1203.5 L1165.0,1204.6 L1168.3,1205.6 L1171.6,1206.6 L1174.7,1207.5 L1177.8,1208.4 L1180.7,1209.2 L1183.6,1210.0 L1186.4,1210.7 L1189.1,1211.5 L1191.8,1212.2 L1194.3,1212.8 L1196.8,1213.5 L1199.2,1214.1 L1201.6,1214.8 L1203.9,1215.4 L1206.2,1216.0 L1208.4,1216.5 L1210.7,1217.1 L1212.9,1217.7 L1215.1,1218.2 L1217.3,1218.7 L1219.6,1219.3 L1221.8,1219.8 L1224.1,1220.4 L1226.4,1220.9 L1228.8,1221.4 L1231.3,1222.0 L1233.8,1222.5 L1236.4,1223.1 L1239.1,1223.6 L1241.9,1224.2 L1244.8,1224.8 L1247.8,1225.4 L1250.9,1226.0 L1254.2,1226.6 L1257.6,1227.2 L1261.1,1227.9 L1264.8,1228.6 L1268.6,1229.2 L1272.5,1229.9 L1276.6,1230.7 L1280.8,1231.4 L1285.1,1232.2 L1289.6,1232.9 L1294.1,1233.7 L1298.8,1234.5 L1303.5,1235.3 L1308.4,1236.1 L1313.4,1236.9 L1318.4,1237.8 L1323.6,1238.6 L1328.9,1239.5 L1334.2,1240.4 L1339.6,1241.2 L1345.2,1242.1 L1350.8,1243.0 L1356.4,1243.9 L1362.2,1244.9 L1368.0,1245.8 L1373.9,1246.7 L1379.8,1247.6 L1385.8,1248.6 L1391.9,1249.5 L1397.9,1250.5 L1404.0,1251.4 L1410.2,1252.3 L1416.3,1253.3 L1422.4,1254.2 L1428.5,1255.1 L1434.6,1256.0 L1440.7,1256.9 L1446.7,1257.8 L1452.7,1258.6 L1458.7,1259.5 L1464.6,1260.3 L1470.4,1261.1 L1476.1,1261.9 L1481.8,1262.6 L1487.3,1263.3 L1492.8,1264.0 L1498.2,1264.7 L1503.4,1265.3 L1508.5,1265.9 L1513.5,1266.5 L1518.3,1267.0 L1523.0,1267.5 L1527.6,1267.9 L1532.1,1268.3 L1536.4,1268.7 L1540.6,1269.1 L1544.7,1269.5 L1548.7,1269.8 L1552.6,1270.1 L1556.3,1270.3 L1560.0,1270.6 L1563.5,1270.8 L1567.0,1271.0 L1570.3,1271.2 L1573.6,1271.4 L1576.7,1271.6 L1579.8,1271.7 L1582.7,1271.9 L1585.6,1272.0 L1588.4,1272.2 L1591.1,1272.3 L1593.8,1272.4 L1596.3,1272.5 L1598.8,1272.6 L1601.2,1272.7 L1603.6,1272.8 L1605.9,1272.9 L1608.2,1273.0 L1610.4,1273.1 L1612.7,1273.2 L1614.9,1273.2 L1617.1,1273.3 L1619.3,1273.3 L1621.6,1273.3 L1623.8,1273.3 L1626.1,1273.3 L1628.4,1273.2 L1630.8,1273.2 L1633.3,1273.1 L1635.8,1273.0 L1638.4,1272.8 L1641.1,1272.6 L1643.9,1272.4 L1646.8,1272.2 L1649.8,1271.9 L1652.9,1271.6 L1656.2,1271.3 L1659.6,1270.9 L1663.1,1270.5 L1666.8,1270.0 L1670.6,1269.6 L1674.5,1269.1 L1678.6,1268.6 L1682.8,1268.0 L1687.1,1267.5 L1691.6,1267.0 L1696.1,1266.4 L1700.8,1265.9 L1705.5,1265.3 L1710.4,1264.8 L1715.4,1264.3 L1720.4,1263.8 L1725.6,1263.4 L1730.9,1262.9 L1736.2,1262.5 L1741.6,1262.1 L1747.2,1261.8 L1752.8,1261.5 L1758.4,1261.3 L1764.2,1261.1 L1770.0,1260.9 L1775.9,1260.8 L1781.8,1260.8 L1787.8,1260.8 L1793.9,1260.9 L1800.0,1261.0 L1806.1,1261.2 L1812.3,1261.4 L1818.5,1261.6 L1824.8,1261.9 L1831.0,1262.2 L1837.3,1262.5 L1843.5,1262.9 L1849.8,1263.2 L1856.1,1263.6 L1862.3,1264.0 L1868.6,1264.5 L1874.8,1264.9 L1881.0,1265.3 L1887.2,1265.8 L1893.3,1266.2 L1899.4,1266.6 L1905.4,1267.1 L1911.4,1267.5 L1917.3,1267.9 L1923.2,1268.3 L1929.0,1268.6 L1934.7,1269.0 L1940.4,1269.3 L1946.0,1269.7 L1951.6,1270.0 L1957.1,1270.3 L1962.6,1270.6 L1968.0,1270.9 L1973.4,1271.2 L1978.7,1271.5 L1984.0,1271.8 L1989.2,1272.1 L1994.4,1272.4 L1999.6,1272.6 L2004.7,1272.9 L2009.8,1273.2 L2014.8,1273.5 L2019.8,1273.8 L2024.8,1274.1 L2029.8,1274.4 L2034.7,1274.7 L2039.6,1275.0 L2044.5,1275.3" stroke="#008000" stroke-width="5.0" fill="none" transform="translate(0,0)"/>
<polygon points="436.5,277.2 456.4,297.1 436.5,317.0 416.6,297.1" fill="#fff" stroke="#008000" stroke-width="1.2"/><polygon points="436.0,276.4 457.2,297.1 436.0,317.8" fill="#008000"/>
<polygon points="557.5,462.3 577.4,482.2 557.5,502.1 537.7,482.2" fill="#fff" stroke="#008000" stroke-width="1.2"/><polygon points="557.0,461.5 578.2,482.2 557.0,502.9" fill="#008000"/>
<polygon points="717.5,739.4 737.3,759.3 717.5,779.1 697.6,759.3" fill="#fff" stroke="#008000" stroke-width="1.2"/><polygon points="717.0,738.6 738.2,759.3 717.0,780.0" fill="#008000"/>
<polygon points="799.5,881.2 819.4,901.1 799.5,921.0 779.7,901.1" fill="#fff" stroke="#008000" stroke-width="1.2"/><polygon points="799.0,880.4 820.2,901.1 799.0,921.8" fill="#008000"/>
<polygon points="838.5,952.9 858.4,972.7 838.5,992.6 818.6,972.7" fill="#fff" stroke="#008000" stroke-width="1.2"/><polygon points="838.0,952.0 859.2,972.7 838.0,993.4" fill="#008000"/>
<polygon points="959.5,1090.1 979.4,1109.9 959.5,1129.8 939.7,1109.9" fill="#fff" stroke="#008000" stroke-width="1.2"/><polygon points="959.0,1089.2 980.2,1109.9 959.0,1130.6" fill="#008000"/>
<polygon points="1119.5,1173.2 1139.3,1193.0 1119.5,1212.8 1099.6,1193.0" fill="#fff" stroke="#008000" stroke-width="1.2"/><polygon points="1119.0,1172.3 1140.2,1193.0 1119.0,1213.7" fill="#008000"/>
<polygon points="1201.5,1195.0 1221.4,1214.8 1201.5,1234.6 1181.7,1214.8" fill="#fff" stroke="#008000" stroke-width="1.2"/><polygon points="1201.0,1194.1 1222.2,1214.8 1201.0,1235.5" fill="#008000"/>
<polygon points="1240.5,1205.1 1260.3,1224.9 1240.5,1244.8 1220.7,1224.9" fill="#fff" stroke="#008000" stroke-width="1.2"/><polygon points="1240.0,1204.2 1261.2,1224.9 1240.0,1245.6" fill="#008000"/>
<polygon points="1361.5,1225.2 1381.4,1245.1 1361.5,1264.9 1341.7,1245.1" fill="#fff" stroke="#008000" stroke-width="1.2"/><polygon points="1361.0,1224.4 1382.2,1245.1 1361.0,1265.8" fill="#008000"/>
<polygon points="1521.5,1249.6 1541.3,1269.4 1521.5,1289.2 1501.6,1269.4" fill="#fff" stroke="#008000" stroke-width="1.2"/><polygon points="1521.0,1248.7 1542.2,1269.4 1521.0,1290.1" fill="#008000"/>
<polygon points="1603.5,1252.9 1623.4,1272.7 1603.5,1292.5 1583.7,1272.7" fill="#fff" stroke="#008000" stroke-width="1.2"/><polygon points="1603.0,1252.0 1624.2,1272.7 1603.0,1293.4" fill="#008000"/>
<polygon points="1642.5,1255.1 1662.3,1274.9 1642.5,1294.8 1622.7,1274.9" fill="#fff" stroke="#008000" stroke-width="1.2"/><polygon points="1642.0,1254.2 1663.2,1274.9 1642.0,1295.6" fill="#008000"/>
<polygon points="1763.5,1235.5 1783.4,1255.3 1763.5,1275.1 1743.7,1255.3" fill="#fff" stroke="#008000" stroke-width="1.2"/><polygon points="1763.0,1234.6 1784.2,1255.3 1763.0,1276.0" fill="#008000"/>
<polygon points="1923.5,1249.6 1943.3,1269.4 1923.5,1289.2 1903.6,1269.4" fill="#fff" stroke="#008000" stroke-width="1.2"/><polygon points="1923.0,1248.7 1944.2,1269.4 1923.0,1290.1" fill="#008000"/>
<polygon points="2005.5,1252.9 2025.4,1272.7 2005.5,1292.5 1985.7,1272.7" fill="#fff" stroke="#008000" stroke-width="1.2"/><polygon points="2005.0,1252.0 2026.2,1272.7 2005.0,1293.4" fill="#008000"/>
<polygon points="2044.5,1255.5 2064.3,1275.3 2044.5,1295.1 2024.7,1275.3" fill="#fff" stroke="#008000" stroke-width="1.2"/><polygon points="2044.0,1254.6 2065.2,1275.3 2044.0,1296.0" fill="#008000"/>
<path d="M436.5,370.3 L451.4,398.3 L465.9,425.5 L480.0,452.1 L493.7,477.8 L506.9,502.9 L519.8,527.3 L532.3,550.9 L544.4,573.9 L556.1,596.2 L567.5,617.8 L578.4,638.7 L589.1,659.0 L599.4,678.6 L609.3,697.6 L618.9,716.0 L628.2,733.8 L637.1,750.9 L645.8,767.5 L654.1,783.4 L662.1,798.8 L669.8,813.6 L677.2,827.9 L684.3,841.6 L691.2,854.7 L697.7,867.3 L704.0,879.4 L710.1,891.0 L715.9,902.1 L721.5,912.8 L726.8,923.0 L731.9,932.8 L736.8,942.1 L741.4,951.1 L745.9,959.6 L750.2,967.9 L754.3,975.7 L758.2,983.2 L762.0,990.5 L765.6,997.4 L769.1,1004.0 L772.4,1010.4 L775.6,1016.5 L778.6,1022.4 L781.6,1028.1 L784.4,1033.6 L787.1,1039.0 L789.8,1044.1 L792.3,1049.1 L794.8,1054.0 L797.2,1058.8 L799.6,1063.4 L801.9,1068.0 L804.2,1072.5 L806.4,1076.8 L808.7,1081.1 L810.9,1085.3 L813.1,1089.5 L815.3,1093.6 L817.6,1097.6 L819.8,1101.6 L822.1,1105.6 L824.4,1109.6 L826.8,1113.5 L829.3,1117.4 L831.8,1121.3 L834.4,1125.2 L837.1,1129.2 L839.9,1133.1 L842.8,1137.1 L845.8,1141.1 L848.9,1145.2 L852.2,1149.3 L855.6,1153.4 L859.1,1157.6 L862.8,1161.9 L866.6,1166.2 L870.5,1170.5 L874.6,1174.9 L878.8,1179.2 L883.1,1183.6 L887.6,1188.0 L892.1,1192.3 L896.8,1196.6 L901.5,1200.9 L906.4,1205.2 L911.4,1209.4 L916.4,1213.6 L921.6,1217.8 L926.9,1221.8 L932.2,1225.8 L937.6,1229.7 L943.2,1233.5 L948.8,1237.3 L954.4,1240.9 L960.2,1244.4 L966.0,1247.8 L971.9,1251.1 L977.8,1254.2 L983.8,1257.2 L989.9,1260.2 L995.9,1263.0 L1002.0,1265.7 L1008.2,1268.2 L1014.3,1270.7 L1020.4,1273.1 L1026.5,1275.4 L1032.6,1277.6 L1038.7,1279.7 L1044.7,1281.7 L1050.7,1283.6 L1056.7,1285.5 L1062.6,1287.3 L1068.4,1289.0 L1074.1,1290.6 L1079.8,1292.2 L1085.3,1293.7 L1090.8,1295.2 L1096.2,1296.6 L1101.4,1297.9 L1106.5,1299.2 L1111.5,1300.5 L1116.3,1301.7 L1121.0,1302.8 L1125.6,1304.0 L1130.1,1305.0 L1134.4,1306.1 L1138.6,1307.1 L1142.7,1308.1 L1146.7,1309.0 L1150.6,1309.9 L1154.3,1310.7 L1158.0,1311.6 L1161.5,1312.4 L1165.0,1313.2 L1168.3,1313.9 L1171.6,1314.6 L1174.7,1315.3 L1177.8,1316.0 L1180.7,1316.7 L1183.6,1317.3 L1186.4,1317.9 L1189.1,1318.5 L1191.8,1319.1 L1194.3,1319.6 L1196.8,1320.2 L1199.2,1320.7 L1201.6,1321.2 L1203.9,1321.7 L1206.2,1322.2 L1208.4,1322.7 L1210.7,1323.2 L1212.9,1323.7 L1215.1,1324.1 L1217.3,1324.6 L1219.6,1325.0 L1221.8,1325.4 L1224.1,1325.9 L1226.4,1326.3 L1228.8,1326.7 L1231.3,1327.1 L1233.8,1327.5 L1236.4,1327.9 L1239.1,1328.4 L1241.9,1328.8 L1244.8,1329.2 L1247.8,1329.6 L1250.9,1330.0 L1254.2,1330.4 L1257.6,1330.8 L1261.1,1331.2 L1264.8,1331.6 L1268.6,1332.0 L1272.5,1332.4 L1276.6,1332.9 L1280.8,1333.3 L1285.1,1333.8 L1289.6,1334.2 L1294.1,1334.7 L1298.8,1335.2 L1303.5,1335.7 L1308.4,1336.2 L1313.4,1336.7 L1318.4,1337.3 L1323.6,1337.8 L1328.9,1338.4 L1334.2,1339.0 L1339.6,1339.7 L1345.2,1340.3 L1350.8,1341.0 L1356.4,1341.7 L1362.2,1342.4 L1368.0,1343.2 L1373.9,1344.0 L1379.8,1344.8 L1385.8,1345.6 L1391.9,1346.5 L1397.9,1347.4 L1404.0,1348.3 L1410.2,1349.2 L1416.3,1350.1 L1422.4,1351.0 L1428.5,1352.0 L1434.6,1352.9 L1440.7,1353.8 L1446.7,1354.8 L1452.7,1355.7 L1458.7,1356.6 L1464.6,1357.5 L1470.4,1358.4 L1476.1,1359.3 L1481.8,1360.2 L1487.3,1361.0 L1492.8,1361.8 L1498.2,1362.6 L1503.4,1363.4 L1508.5,1364.1 L1513.5,1364.8 L1518.3,1365.5 L1523.0,1366.1 L1527.6,1366.7 L1532.1,1367.3 L1536.4,1367.8 L1540.6,1368.4 L1544.7,1368.8 L1548.7,1369.3 L1552.6,1369.8 L1556.3,1370.2 L1560.0,1370.6 L1563.5,1371.0 L1567.0,1371.3 L1570.3,1371.7 L1573.6,1372.0 L1576.7,1372.4 L1579.8,1372.7 L1582.7,1373.0 L1585.6,1373.2 L1588.4,1373.5 L1591.1,1373.8 L1593.8,1374.1 L1596.3,1374.3 L1598.8,1374.6 L1601.2,1374.8 L1603.6,1375.1 L1605.9,1375.3 L1608.2,1375.5 L1610.4,1375.7 L1612.7,1375.8 L1614.9,1376.0 L1617.1,1376.1 L1619.3,1376.2 L1621.6,1376.2 L1623.8,1376.2 L1626.1,1376.2 L1628.4,1376.1 L1630.8,1376.0 L1633.3,1375.8 L1635.8,1375.6 L1638.4,1375.3 L1641.1,1375.0 L1643.9,1374.6 L1646.8,1374.1 L1649.8,1373.6 L1652.9,1372.9 L1656.2,1372.3 L1659.6,1371.5 L1663.1,1370.7 L1666.8,1369.8 L1670.6,1368.8 L1674.5,1367.9 L1678.6,1366.8 L1682.8,1365.8 L1687.1,1364.7 L1691.6,1363.6 L1696.1,1362.5 L1700.8,1361.4 L1705.5,1360.4 L1710.4,1359.3 L1715.4,1358.3 L1720.4,1357.3 L1725.6,1356.3 L1730.9,1355.4 L1736.2,1354.6 L1741.6,1353.8 L1747.2,1353.1 L1752.8,1352.5 L1758.4,1352.0 L1764.2,1351.6 L1770.0,1351.2 L1775.9,1351.1 L1781.8,1351.0 L1787.8,1351.0 L1793.9,1351.1 L1800.0,1351.3 L1806.1,1351.6 L1812.3,1352.0 L1818.5,1352.4 L1824.8,1352.9 L1831.0,1353.5 L1837.3,1354.1 L1843.5,1354.8 L1849.8,1355.5 L1856.1,1356.3 L1862.3,1357.1 L1868.6,1357.9 L1874.8,1358.7 L1881.0,1359.6 L1887.2,1360.5 L1893.3,1361.3 L1899.4,1362.2 L1905.4,1363.0 L1911.4,1363.9 L1917.3,1364.7 L1923.2,1365.5 L1929.0,1366.2 L1934.7,1366.9 L1940.4,1367.7 L1946.0,1368.3 L1951.6,1369.0 L1957.1,1369.7 L1962.6,1370.3 L1968.0,1370.9 L1973.4,1371.5 L1978.7,1372.1 L1984.0,1372.7 L1989.2,1373.3 L1994.4,1373.9 L1999.6,1374.4 L2004.7,1375.0 L2009.8,1375.6 L2014.8,1376.1 L2019.8,1376.7 L2024.8,1377.3 L2029.8,1377.9 L2034.7,1378.5 L2039.6,1379.1 L2044.5,1379.7" stroke="#900080" stroke-width="5.0" fill="none" transform="translate(-1,0)"/>
<path d="M436.5,370.3 L451.4,398.3 L465.9,425.5 L480.0,452.1 L493.7,477.8 L506.9,502.9 L519.8,527.3 L532.3,550.9 L544.4,573.9 L556.1,596.2 L567.5,617.8 L578.4,638.7 L589.1,659.0 L599.4,678.6 L609.3,697.6 L618.9,716.0 L628.2,733.8 L637.1,750.9 L645.8,767.5 L654.1,783.4 L662.1,798.8 L669.8,813.6 L677.2,827.9 L684.3,841.6 L691.2,854.7 L697.7,867.3 L704.0,879.4 L710.1,891.0 L715.9,902.1 L721.5,912.8 L726.8,923.0 L731.9,932.8 L736.8,942.1 L741.4,951.1 L745.9,959.6 L750.2,967.9 L754.3,975.7 L758.2,983.2 L762.0,990.5 L765.6,997.4 L769.1,1004.0 L772.4,1010.4 L775.6,1016.5 L778.6,1022.4 L781.6,1028.1 L784.4,1033.6 L787.1,1039.0 L789.8,1044.1 L792.3,1049.1 L794.8,1054.0 L797.2,1058.8 L799.6,1063.4 L801.9,1068.0 L804.2,1072.5 L806.4,1076.8 L808.7,1081.1 L810.9,1085.3 L813.1,1089.5 L815.3,1093.6 L817.6,1097.6 L819.8,1101.6 L822.1,1105.6 L824.4,1109.6 L826.8,1113.5 L829.3,1117.4 L831.8,1121.3 L834.4,1125.2 L837.1,1129.2 L839.9,1133.1 L842.8,1137.1 L845.8,1141.1 L848.9,1145.2 L852.2,1149.3 L855.6,1153.4 L859.1,1157.6 L862.8,1161.9 L866.6,1166.2 L870.5,1170.5 L874.6,1174.9 L878.8,1179.2 L883.1,1183.6 L887.6,1188.0 L892.1,1192.3 L896.8,1196.6 L901.5,1200.9 L906.4,1205.2 L911.4,1209.4 L916.4,1213.6 L921.6,1217.8 L926.9,1221.8 L932.2,1225.8 L937.6,1229.7 L943.2,1233.5 L948.8,1237.3 L954.4,1240.9 L960.2,1244.4 L966.0,1247.8 L971.9,1251.1 L977.8,1254.2 L983.8,1257.2 L989.9,1260.2 L995.9,1263.0 L1002.0,1265.7 L1008.2,1268.2 L1014.3,1270.7 L1020.4,1273.1 L1026.5,1275.4 L1032.6,1277.6 L1038.7,1279.7 L1044.7,1281.7 L1050.7,1283.6 L1056.7,1285.5 L1062.6,1287.3 L1068.4,1289.0 L1074.1,1290.6 L1079.8,1292.2 L1085.3,1293.7 L1090.8,1295.2 L1096.2,1296.6 L1101.4,1297.9 L1106.5,1299.2 L1111.5,1300.5 L1116.3,1301.7 L1121.0,1302.8 L1125.6,1304.0 L1130.1,1305.0 L1134.4,1306.1 L1138.6,1307.1 L1142.7,1308.1 L1146.7,1309.0 L1150.6,1309.9 L1154.3,1310.7 L1158.0,1311.6 L1161.5,1312.4 L1165.0,1313.2 L1168.3,1313.9 L1171.6,1314.6 L1174.7,1315.3 L1177.8,1316.0 L1180.7,1316.7 L1183.6,1317.3 L1186.4,1317.9 L1189.1,1318.5 L1191.8,1319.1 L1194.3,1319.6 L1196.8,1320.2 L1199.2,1320.7 L1201.6,1321.2 L1203.9,1321.7 L1206.2,1322.2 L1208.4,1322.7 L1210.7,1323.2 L1212.9,1323.7 L1215.1,1324.1 L1217.3,1324.6 L1219.6,1325.0 L1221.8,1325.4 L1224.1,1325.9 L1226.4,1326.3 L1228.8,1326.7 L1231.3,1327.1 L1233.8,1327.5 L1236.4,1327.9 L1239.1,1328.4 L1241.9,1328.8 L1244.8,1329.2 L1247.8,1329.6 L1250.9,1330.0 L1254.2,1330.4 L1257.6,1330.8 L1261.1,1331.2 L1264.8,1331.6 L1268.6,1332.0 L1272.5,1332.4 L1276.6,1332.9 L1280.8,1333.3 L1285.1,1333.8 L1289.6,1334.2 L1294.1,1334.7 L1298.8,1335.2 L1303.5,1335.7 L1308.4,1336.2 L1313.4,1336.7 L1318.4,1337.3 L1323.6,1337.8 L1328.9,1338.4 L1334.2,1339.0 L1339.6,1339.7 L1345.2,1340.3 L1350.8,1341.0 L1356.4,1341.7 L1362.2,1342.4 L1368.0,1343.2 L1373.9,1344.0 L1379.8,1344.8 L1385.8,1345.6 L1391.9,1346.5 L1397.9,1347.4 L1404.0,1348.3 L1410.2,1349.2 L1416.3,1350.1 L1422.4,1351.0 L1428.5,1352.0 L1434.6,1352.9 L1440.7,1353.8 L1446.7,1354.8 L1452.7,1355.7 L1458.7,1356.6 L1464.6,1357.5 L1470.4,1358.4 L1476.1,1359.3 L1481.8,1360.2 L1487.3,1361.0 L1492.8,1361.8 L1498.2,1362.6 L1503.4,1363.4 L1508.5,1364.1 L1513.5,1364.8 L1518.3,1365.5 L1523.0,1366.1 L1527.6,1366.7 L1532.1,1367.3 L1536.4,1367.8 L1540.6,1368.4 L1544.7,1368.8 L1548.7,1369.3 L1552.6,1369.8 L1556.3,1370.2 L1560.0,1370.6 L1563.5,1371.0 L1567.0,1371.3 L1570.3,1371.7 L1573.6,1372.0 L1576.7,1372.4 L1579.8,1372.7 L1582.7,1373.0 L1585.6,1373.2 L1588.4,1373.5 L1591.1,1373.8 L1593.8,1374.1 L1596.3,1374.3 L1598.8,1374.6 L1601.2,1374.8 L1603.6,1375.1 L1605.9,1375.3 L1608.2,1375.5 L1610.4,1375.7 L1612.7,1375.8 L1614.9,1376.0 L1617.1,1376.1 L1619.3,1376.2 L1621.6,1376.2 L1623.8,1376.2 L1626.1,1376.2 L1628.4,1376.1 L1630.8,1376.0 L1633.3,1375.8 L1635.8,1375.6 L1638.4,1375.3 L1641.1,1375.0 L1643.9,1374.6 L1646.8,1374.1 L1649.8,1373.6 L1652.9,1372.9 L1656.2,1372.3 L1659.6,1371.5 L1663.1,1370.7 L1666.8,1369.8 L1670.6,1368.8 L1674.5,1367.9 L1678.6,1366.8 L1682.8,1365.8 L1687.1,1364.7 L1691.6,1363.6 L1696.1,1362.5 L1700.8,1361.4 L1705.5,1360.4 L1710.4,1359.3 L1715.4,1358.3 L1720.4,1357.3 L1725.6,1356.3 L1730.9,1355.4 L1736.2,1354.6 L1741.6,1353.8 L1747.2,1353.1 L1752.8,1352.5 L1758.4,1352.0 L1764.2,1351.6 L1770.0,1351.2 L1775.9,1351.1 L1781.8,1351.0 L1787.8,1351.0 L1793.9,1351.1 L1800.0,1351.3 L1806.1,1351.6 L1812.3,1352.0 L1818.5,1352.4 L1824.8,1352.9 L1831.0,1353.5 L1837.3,1354.1 L1843.5,1354.8 L1849.8,1355.5 L1856.1,1356.3 L1862.3,1357.1 L1868.6,1357.9 L1874.8,1358.7 L1881.0,1359.6 L1887.2,1360.5 L1893.3,1361.3 L1899.4,1362.2 L1905.4,1363.0 L1911.4,1363.9 L1917.3,1364.7 L1923.2,1365.5 L1929.0,1366.2 L1934.7,1366.9 L1940.4,1367.7 L1946.0,1368.3 L1951.6,1369.0 L1957.1,1369.7 L1962.6,1370.3 L1968.0,1370.9 L1973.4,1371.5 L1978.7,1372.1 L1984.0,1372.7 L1989.2,1373.3 L1994.4,1373.9 L1999.6,1374.4 L2004.7,1375.0 L2009.8,1375.6 L2014.8,1376.1 L2019.8,1376.7 L2024.8,1377.3 L2029.8,1377.9 L2034.7,1378.5 L2039.6,1379.1 L2044.5,1379.7" stroke="#900080" stroke-width="5.0" fill="none" transform="translate(0,0)"/>
<polygon points="436.5,351.5 440.7,364.5 454.4,364.5 443.3,372.5 447.6,385.5 436.5,377.5 425.4,385.5 429.7,372.5 418.6,364.5 432.3,364.5" fill="#fff" stroke="#900080" stroke-width="1.2" stroke-linejoin="round"/><polygon points="436.0,350.9 440.9,364.3 455.0,364.3 443.5,372.6 447.9,386.0 436.0,377.7" fill="#900080"/>
<polygon points="557.5,578.5 561.7,591.5 575.4,591.5 564.3,599.5 568.6,612.5 557.5,604.5 546.5,612.5 550.7,599.5 539.6,591.5 553.3,591.5" fill="#fff" stroke="#900080" stroke-width="1.2" stroke-linejoin="round"/><polygon points="557.0,577.9 561.9,591.3 576.0,591.3 564.5,599.6 568.9,613.0 557.0,604.7" fill="#900080"/>
<polygon points="717.5,887.2 721.7,900.2 735.4,900.2 724.3,908.2 728.5,921.2 717.5,913.2 706.4,921.2 710.7,908.2 699.6,900.2 713.3,900.2" fill="#fff" stroke="#900080" stroke-width="1.2" stroke-linejoin="round"/><polygon points="717.0,886.6 721.9,900.0 735.9,900.0 724.5,908.3 728.9,921.7 717.0,913.4" fill="#900080"/>
<polygon points="799.5,1042.5 803.7,1055.5 817.4,1055.5 806.3,1063.5 810.6,1076.5 799.5,1068.5 788.5,1076.5 792.7,1063.5 781.6,1055.5 795.3,1055.5" fill="#fff" stroke="#900080" stroke-width="1.2" stroke-linejoin="round"/><polygon points="799.0,1041.9 803.9,1055.3 818.0,1055.3 806.6,1063.6 810.9,1077.0 799.0,1068.7" fill="#900080"/>
<polygon points="838.5,1124.8 842.7,1137.8 856.4,1137.8 845.3,1145.8 849.6,1158.8 838.5,1150.8 827.4,1158.8 831.7,1145.8 820.6,1137.8 834.3,1137.8" fill="#fff" stroke="#900080" stroke-width="1.2" stroke-linejoin="round"/><polygon points="838.0,1124.2 842.9,1137.6 857.0,1137.6 845.5,1145.9 849.9,1159.3 838.0,1151.0" fill="#900080"/>
<polygon points="959.5,1241.1 963.7,1254.1 977.4,1254.1 966.3,1262.1 970.6,1275.1 959.5,1267.1 948.5,1275.1 952.7,1262.1 941.6,1254.1 955.3,1254.1" fill="#fff" stroke="#900080" stroke-width="1.2" stroke-linejoin="round"/><polygon points="959.0,1240.5 963.9,1253.9 978.0,1253.9 966.5,1262.2 970.9,1275.6 959.0,1267.3" fill="#900080"/>
<polygon points="1119.5,1284.8 1123.7,1297.8 1137.4,1297.8 1126.3,1305.8 1130.5,1318.8 1119.5,1310.8 1108.4,1318.8 1112.7,1305.8 1101.6,1297.8 1115.3,1297.8" fill="#fff" stroke="#900080" stroke-width="1.2" stroke-linejoin="round"/><polygon points="1119.0,1284.2 1123.9,1297.6 1137.9,1297.6 1126.5,1305.9 1130.9,1319.3 1119.0,1311.0" fill="#900080"/>
<polygon points="1201.5,1302.2 1205.7,1315.2 1219.4,1315.2 1208.3,1323.2 1212.6,1336.2 1201.5,1328.2 1190.5,1336.2 1194.7,1323.2 1183.6,1315.2 1197.3,1315.2" fill="#fff" stroke="#900080" stroke-width="1.2" stroke-linejoin="round"/><polygon points="1201.0,1301.6 1205.9,1315.0 1220.0,1315.0 1208.6,1323.3 1212.9,1336.7 1201.0,1328.4" fill="#900080"/>
<polygon points="1240.5,1311.4 1244.7,1324.4 1258.4,1324.4 1247.3,1332.4 1251.6,1345.4 1240.5,1337.4 1229.4,1345.4 1233.7,1332.4 1222.6,1324.4 1236.3,1324.4" fill="#fff" stroke="#900080" stroke-width="1.2" stroke-linejoin="round"/><polygon points="1240.0,1310.8 1244.9,1324.2 1259.0,1324.2 1247.5,1332.5 1251.9,1345.9 1240.0,1337.6" fill="#900080"/>
<polygon points="1361.5,1321.6 1365.7,1334.6 1379.4,1334.6 1368.3,1342.6 1372.6,1355.6 1361.5,1347.6 1350.5,1355.6 1354.7,1342.6 1343.6,1334.6 1357.3,1334.6" fill="#fff" stroke="#900080" stroke-width="1.2" stroke-linejoin="round"/><polygon points="1361.0,1321.0 1365.9,1334.4 1380.0,1334.4 1368.5,1342.7 1372.9,1356.1 1361.0,1347.8" fill="#900080"/>
<polygon points="1521.5,1348.6 1525.7,1361.6 1539.4,1361.6 1528.3,1369.6 1532.5,1382.6 1521.5,1374.6 1510.4,1382.6 1514.7,1369.6 1503.6,1361.6 1517.3,1361.6" fill="#fff" stroke="#900080" stroke-width="1.2" stroke-linejoin="round"/><polygon points="1521.0,1348.0 1525.9,1361.4 1539.9,1361.4 1528.5,1369.7 1532.9,1383.1 1521.0,1374.8" fill="#900080"/>
<polygon points="1603.5,1355.9 1607.7,1368.9 1621.4,1368.9 1610.3,1376.9 1614.6,1389.9 1603.5,1381.9 1592.5,1389.9 1596.7,1376.9 1585.6,1368.9 1599.3,1368.9" fill="#fff" stroke="#900080" stroke-width="1.2" stroke-linejoin="round"/><polygon points="1603.0,1355.3 1607.9,1368.7 1622.0,1368.7 1610.6,1377.0 1614.9,1390.4 1603.0,1382.1" fill="#900080"/>
<polygon points="1642.5,1360.9 1646.7,1373.9 1660.4,1373.9 1649.3,1381.9 1653.6,1394.9 1642.5,1386.9 1631.4,1394.9 1635.7,1381.9 1624.6,1373.9 1638.3,1373.9" fill="#fff" stroke="#900080" stroke-width="1.2" stroke-linejoin="round"/><polygon points="1642.0,1360.3 1646.9,1373.7 1661.0,1373.7 1649.5,1382.0 1653.9,1395.4 1642.0,1387.1" fill="#900080"/>
<polygon points="1763.5,1321.3 1767.7,1334.3 1781.4,1334.3 1770.3,1342.3 1774.6,1355.3 1763.5,1347.3 1752.5,1355.3 1756.7,1342.3 1745.6,1334.3 1759.3,1334.3" fill="#fff" stroke="#900080" stroke-width="1.2" stroke-linejoin="round"/><polygon points="1763.0,1320.7 1767.9,1334.1 1782.0,1334.1 1770.5,1342.4 1774.9,1355.8 1763.0,1347.5" fill="#900080"/>
<polygon points="1923.5,1348.6 1927.7,1361.6 1941.4,1361.6 1930.3,1369.6 1934.5,1382.6 1923.5,1374.6 1912.4,1382.6 1916.7,1369.6 1905.6,1361.6 1919.3,1361.6" fill="#fff" stroke="#900080" stroke-width="1.2" stroke-linejoin="round"/><polygon points="1923.0,1348.0 1927.9,1361.4 1941.9,1361.4 1930.5,1369.7 1934.9,1383.1 1923.0,1374.8" fill="#900080"/>
<polygon points="2005.5,1355.9 2009.7,1368.9 2023.4,1368.9 2012.3,1376.9 2016.6,1389.9 2005.5,1381.9 1994.5,1389.9 1998.7,1376.9 1987.6,1368.9 2001.3,1368.9" fill="#fff" stroke="#900080" stroke-width="1.2" stroke-linejoin="round"/><polygon points="2005.0,1355.3 2009.9,1368.7 2024.0,1368.7 2012.6,1377.0 2016.9,1390.4 2005.0,1382.1" fill="#900080"/>
<polygon points="2044.5,1360.9 2048.7,1373.9 2062.4,1373.9 2051.3,1381.9 2055.6,1394.9 2044.5,1386.9 2033.4,1394.9 2037.7,1381.9 2026.6,1373.9 2040.3,1373.9" fill="#fff" stroke="#900080" stroke-width="1.2" stroke-linejoin="round"/><polygon points="2044.0,1360.3 2048.9,1373.7 2063.0,1373.7 2051.5,1382.0 2055.9,1395.4 2044.0,1387.1" fill="#900080"/>
</g>
<g stroke="#000" stroke-width="5" fill="none" stroke-linecap="butt">
<rect x="233.5" y="23.0" width="2012.0" height="1480.5"/>
<line x1="233.5" y1="1397.4" x2="267.1" y2="1397.4"/>
<line x1="233.5" y1="1186.0" x2="267.1" y2="1186.0"/>
<line x1="233.5" y1="974.5" x2="267.1" y2="974.5"/>
<line x1="233.5" y1="763.1" x2="267.1" y2="763.1"/>
<line x1="233.5" y1="551.7" x2="267.1" y2="551.7"/>
<line x1="233.5" y1="340.2" x2="267.1" y2="340.2"/>
<line x1="233.5" y1="128.8" x2="267.1" y2="128.8"/>
<line x1="233.5" y1="1291.7" x2="251.0" y2="1291.7"/>
<line x1="233.5" y1="1080.3" x2="251.0" y2="1080.3"/>
<line x1="233.5" y1="868.8" x2="251.0" y2="868.8"/>
<line x1="233.5" y1="657.4" x2="251.0" y2="657.4"/>
<line x1="233.5" y1="446.0" x2="251.0" y2="446.0"/>
<line x1="233.5" y1="234.5" x2="251.0" y2="234.5"/>
<line x1="436.5" y1="1503.5" x2="436.5" y2="1472.2"/>
<line x1="838.5" y1="1503.5" x2="838.5" y2="1472.2"/>
<line x1="1240.5" y1="1503.5" x2="1240.5" y2="1472.2"/>
<line x1="1642.5" y1="1503.5" x2="1642.5" y2="1472.2"/>
<line x1="2044.5" y1="1503.5" x2="2044.5" y2="1472.2"/>
<line x1="637.5" y1="1503.5" x2="637.5" y2="1487.6"/>
<line x1="1039.5" y1="1503.5" x2="1039.5" y2="1487.6"/>
<line x1="1441.5" y1="1503.5" x2="1441.5" y2="1487.6"/>
<line x1="1843.5" y1="1503.5" x2="1843.5" y2="1487.6"/>
</g>
<text transform="translate(134.89,1411.61) scale(1.0295,1)" font-size="59">35</text>
<text transform="translate(135.83,1200.17) scale(1.0118,1)" font-size="59">40</text>
<text transform="translate(135.83,988.74) scale(1.0147,1)" font-size="59">45</text>
<text transform="translate(134.77,777.31) scale(1.0286,1)" font-size="59">50</text>
<text transform="translate(134.76,565.87) scale(1.0315,1)" font-size="59">55</text>
<text transform="translate(134.09,354.44) scale(1.0394,1)" font-size="59">60</text>
<text transform="translate(134.08,143.00) scale(1.0424,1)" font-size="59">65</text>
<text transform="translate(406.39,1581.30) scale(1.0731,1)" font-size="59">-6</text>
<text transform="translate(810.30,1581.30) scale(1.0283,1)" font-size="59">-5</text>
<text transform="translate(1212.55,1581.30) scale(1.0102,1)" font-size="59">-4</text>
<text transform="translate(1614.39,1581.30) scale(1.0329,1)" font-size="59">-3</text>
<text transform="translate(2016.40,1581.30) scale(1.0689,1)" font-size="59">-2</text>
<text transform="translate(962.20,1699.70) scale(1.0313,1)" font-size="72">log</text>
<text transform="translate(1082.54,1699.70) scale(0.9324,1)" font-size="72">(</text>
<text transform="translate(1108.21,1699.70) scale(0.9791,1)" font-size="72" class="it">C</text>
<text transform="translate(1159.63,1729.30) scale(1.0400,1)" font-size="43">ELP</text>
<text transform="translate(1262.22,1699.70) scale(0.9891,1)" font-size="72">+</text>
<text transform="translate(1329.17,1699.70) scale(0.9647,1)" font-size="72" class="it">C</text>
<text transform="translate(1378.19,1729.30) scale(1.0226,1)" font-size="43">RH40</text>
<text transform="translate(1495.42,1699.70) scale(0.9010,1)" font-size="72">)</text>
<text transform="translate(68.80,990.10) rotate(-90) scale(0.9583,1)" font-size="69" class="ser">γ</text>
<text transform="translate(96.90,964.94) rotate(-90) scale(1.0045,1)" font-size="43">LV</text>
<text transform="translate(68.80,889.02) rotate(-90) scale(1.0122,1)" font-size="72">(mN/m)</text>
<rect x="1400.8" y="95.2" width="738.2" height="914.5" fill="#fff" stroke="#000" stroke-width="4"/>
<text transform="translate(1451.65,228.30) scale(1.0200,1)" font-size="72">T = 293K</text>
<text transform="translate(1455.32,318.35) scale(1.0000,1)" font-size="72" clip-path="url(#k1)">1</text>
<path d="M1514.4,293.4 H1566.5 M1625.0,293.4 H1677.1" stroke="#008000" stroke-width="5" stroke-linecap="round" fill="none"/>
<polygon points="1595.8,273.0 1617.7,294.0 1595.8,315.0 1573.8,294.0" fill="#008000"/>
<text transform="translate(1694.98,318.35) scale(1.0368,1)" font-size="72">M3</text>
<text transform="translate(1449.00,408.40) scale(1.0762,1)" font-size="72">2</text>
<path d="M1514.4,383.4 H1566.5 M1625.0,383.4 H1677.1" stroke="#900080" stroke-width="5" stroke-linecap="round" fill="none"/>
<polygon points="1595.8,363.1 1600.1,377.1 1614.1,377.1 1602.8,385.8 1607.1,399.8 1595.8,391.2 1584.4,399.8 1588.7,385.8 1577.4,377.1 1591.4,377.1" fill="#900080"/>
<text transform="translate(1695.87,408.40) scale(1.0218,1)" font-size="72">ELP+RH40</text>
<text transform="translate(1451.65,498.45) scale(1.0200,1)" font-size="72">T = 303K</text>
<text transform="translate(1455.32,588.50) scale(1.0000,1)" font-size="72" clip-path="url(#k1)">1</text>
<text transform="translate(1492.72,588.50) scale(1.0390,1)" font-size="72">&quot;</text>
<path d="M1540.6,563.5 H1592.5 M1651.1,563.5 H1703.1" stroke="#008000" stroke-width="5" stroke-linecap="round" fill="none"/>
<polygon points="1621.8,544.0 1642.9,564.1 1621.8,584.2 1600.8,564.1" fill="#fff" stroke="#008000" stroke-width="1.2"/>
<text transform="translate(1720.58,588.50) scale(1.0368,1)" font-size="72">M3</text>
<text transform="translate(1449.00,678.55) scale(1.0762,1)" font-size="72">2</text>
<text transform="translate(1492.33,678.55) scale(1.2213,1)" font-size="72">'</text>
<path d="M1527.7,653.5 H1580.2 M1638.8,653.5 H1691.2" stroke="#900080" stroke-width="5" stroke-linecap="round" fill="none"/>
<polygon points="1609.5,633.9 1613.6,647.5 1627.2,647.5 1616.2,655.9 1620.4,669.5 1609.5,661.1 1598.5,669.5 1602.7,655.9 1591.7,647.5 1605.3,647.5" fill="#fff" stroke="#900080" stroke-width="1.2" stroke-linejoin="round"/>
<text transform="translate(1710.07,678.55) scale(1.0218,1)" font-size="72">ELP+RH40</text>
<text transform="translate(1451.65,768.60) scale(1.0200,1)" font-size="72">T = 313K</text>
<text transform="translate(1455.32,858.65) scale(1.0000,1)" font-size="72" clip-path="url(#k1)">1</text>
<text transform="translate(1492.72,858.65) scale(1.0390,1)" font-size="72">&quot;</text>
<path d="M1540.6,833.7 H1592.5 M1651.1,833.7 H1703.1" stroke="#008000" stroke-width="5" stroke-linecap="round" fill="none"/>
<polygon points="1621.8,814.1 1642.9,834.3 1621.8,854.4 1600.8,834.3" fill="#fff" stroke="#008000" stroke-width="1.2"/><polygon points="1621.3,813.3 1643.8,834.3 1621.3,855.3" fill="#008000"/>
<text transform="translate(1720.58,858.65) scale(1.0368,1)" font-size="72">M3</text>
<text transform="translate(1449.00,948.70) scale(1.0762,1)" font-size="72">2</text>
<text transform="translate(1492.72,948.70) scale(1.0390,1)" font-size="72">&quot;</text>
<path d="M1540.6,923.7 H1592.5 M1651.1,923.7 H1703.1" stroke="#900080" stroke-width="5" stroke-linecap="round" fill="none"/>
<polygon points="1621.8,904.6 1626.1,917.8 1640.0,917.8 1628.8,926.0 1633.1,939.2 1621.8,931.0 1610.6,939.2 1614.9,926.0 1603.7,917.8 1617.6,917.8" fill="#fff" stroke="#900080" stroke-width="1.2" stroke-linejoin="round"/><polygon points="1621.3,904.0 1626.3,917.6 1640.6,917.6 1629.0,926.0 1633.4,939.6 1621.3,931.2" fill="#900080"/>
<text transform="translate(1722.17,948.70) scale(1.0218,1)" font-size="72">ELP+RH40</text>
<text transform="translate(365.22,255.30) scale(1.0000,1)" font-size="72" clip-path="url(#k1)">1</text>
<text transform="translate(400.17,255.30) scale(1.2676,1)" font-size="72">'</text>
<text transform="translate(522.20,857.30) scale(1.0488,1)" font-size="72">2</text>
<text transform="translate(810.26,1257.30) scale(1.0335,1)" font-size="72">2</text>
<text transform="translate(853.70,1257.30) scale(1.1749,1)" font-size="72">'</text>
<text transform="translate(1391.56,1423.80) scale(1.0610,1)" font-size="72">2</text>
<text transform="translate(1435.74,1423.80) scale(1.0339,1)" font-size="72">&quot;</text>
<text transform="translate(1868.52,1156.80) scale(1.0000,1)" font-size="72" clip-path="url(#k1)">1</text>
<text transform="translate(2070.82,1306.00) scale(1.0000,1)" font-size="72" clip-path="url(#k1)">1</text>
<text transform="translate(2107.76,1306.00) scale(1.0596,1)" font-size="72">&quot;</text>
<g stroke="#000" stroke-width="3.5" fill="#000">
<line x1="715" y1="827.6" x2="568.5" y2="827.6"/>
<polygon points="567,827.6 605,818 605,837.2" stroke="none"/>
<line x1="951.4" y1="1222.5" x2="853.1" y2="1236.1"/>
<polygon points="851.6,1236.3 889.5,1221.5 892.2,1240.5" stroke="none"/>
</g>
</svg></body></html>
